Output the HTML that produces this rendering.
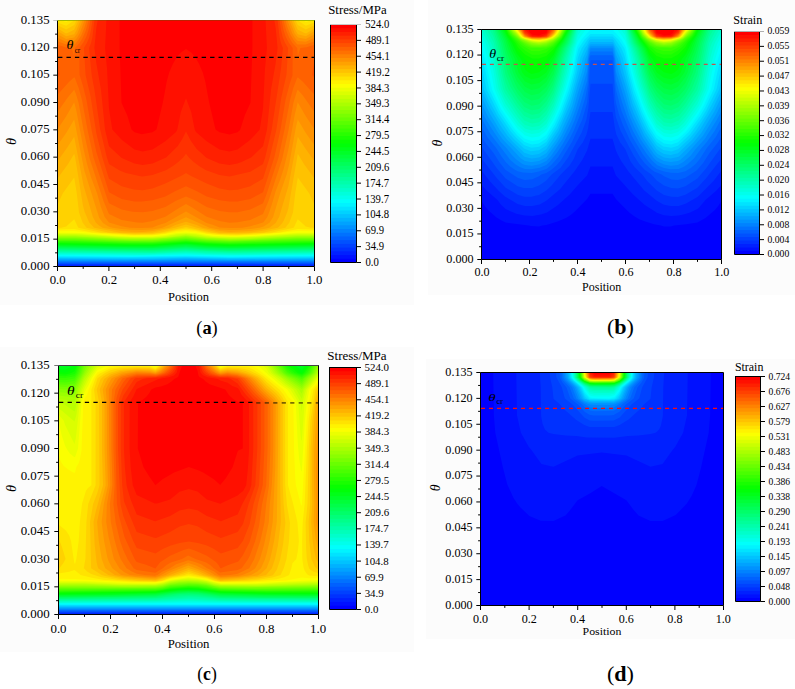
<!DOCTYPE html>
<html><head><meta charset="utf-8"><style>
html,body{margin:0;padding:0;background:#fff;}
svg.main{display:block;font-family:"Liberation Serif", serif;}
</style></head><body>
<svg class="main" width="795" height="689" viewBox="0 0 795 689">
<rect x="0" y="0" width="414" height="305" fill="#fcfcfc"/>
<rect x="428" y="0" width="367" height="295" fill="#fcfcfc"/>
<rect x="0" y="347" width="414" height="305" fill="#fcfcfc"/>
<rect x="426" y="359" width="369" height="280" fill="#fcfcfc"/>
<svg x="57.5" y="20.5" width="257.00" height="246.00" viewBox="0 0 257.00 246.00" preserveAspectRatio="none"><rect x="0" y="0" width="257" height="246" fill="#0000ff"/>
<path fill="#0010ff" d="M0.7,246.0 257.0,246.0 257.0,0.0 0.0,0.0 0.0,246.0Z"/>
<path fill="#0020ff" d="M0.7,245.6 257.0,245.6 257.0,0.0 0.0,0.0 0.0,245.6Z"/>
<path fill="#0031ff" d="M0.7,244.9 257.0,244.9 257.0,0.0 0.0,0.0 0.0,244.9Z"/>
<path fill="#0041ff" d="M0.7,244.1 257.0,244.1 257.0,0.0 0.0,0.0 0.0,244.1Z"/>
<path fill="#0051ff" d="M0.7,243.4 257.0,243.4 257.0,0.0 0.0,0.0 0.0,243.4Z"/>
<path fill="#0061ff" d="M20.7,242.7 257.0,242.6 257.0,0.0 0.0,0.0 0.0,242.6Z"/>
<path fill="#0071ff" d="M35.5,242.0 257.0,241.9 257.0,0.0 0.0,0.0 0.0,241.9Z"/>
<path fill="#0082ff" d="M44.8,241.3 257.0,241.2 257.0,0.0 0.0,0.0 0.0,241.2Z"/>
<path fill="#0092ff" d="M51.5,240.7 257.0,240.4 257.0,0.0 0.0,0.0 0.0,240.4Z"/>
<path fill="#00a2ff" d="M57.6,240.0 128.5,239.5 172.0,240.1 257.0,239.7 257.0,0.0 0.0,0.0 0.0,239.7Z"/>
<path fill="#00b2ff" d="M61.6,239.3 95.0,239.4 128.5,238.8 172.0,239.4 257.0,238.9 257.0,0.0 0.0,0.0 0.0,238.9Z"/>
<path fill="#00c2ff" d="M65.6,238.7 128.5,238.0 172.0,238.8 257.0,238.2 257.0,0.0 0.0,0.0 0.0,238.2Z"/>
<path fill="#00d2ff" d="M68.3,238.0 95.0,238.0 128.5,237.2 172.0,238.1 257.0,237.5 257.0,0.0 0.0,0.0 0.0,237.5Z"/>
<path fill="#00e3ff" d="M70.9,237.3 128.5,236.5 172.0,237.4 257.0,236.7 257.0,0.0 0.0,0.0 0.0,236.7Z"/>
<path fill="#00f3ff" d="M73.0,236.6 128.5,235.7 172.0,236.7 257.0,236.0 257.0,0.0 0.0,0.0 0.0,236.0Z"/>
<path fill="#00fffb" d="M75.0,236.0 128.5,235.0 172.0,236.0 257.0,235.2 257.0,0.0 0.0,0.0 0.0,235.2Z"/>
<path fill="#00ffeb" d="M76.3,235.3 128.5,234.2 172.0,235.3 257.0,234.5 257.0,0.0 0.0,0.0 0.0,234.5Z"/>
<path fill="#00ffdb" d="M33.5,234.0 85.0,234.6 128.5,233.4 149.2,234.2 179.4,234.6 257.0,233.7 257.0,0.0 0.0,0.0 0.0,233.7Z"/>
<path fill="#00ffca" d="M38.1,233.3 85.0,233.9 128.5,232.6 149.2,233.5 179.4,233.9 257.0,233.0 257.0,0.0 0.0,0.0 0.0,233.0Z"/>
<path fill="#00ffba" d="M42.2,232.6 95.0,233.1 128.5,231.8 149.9,232.8 179.4,233.2 257.0,232.2 257.0,0.0 0.0,0.0 0.0,232.2Z"/>
<path fill="#00ffaa" d="M45.5,232.0 95.0,232.4 128.5,231.0 151.9,232.1 179.4,232.5 257.0,231.5 257.0,0.0 0.0,0.0 0.0,231.5Z"/>
<path fill="#00ff9a" d="M48.9,231.3 95.0,231.7 128.5,230.2 172.0,231.8 257.0,230.7 257.0,0.0 0.0,0.0 0.0,230.7Z"/>
<path fill="#00ff8a" d="M51.5,230.6 95.0,231.0 128.5,229.4 149.2,230.6 172.0,231.1 257.0,230.0 257.0,0.0 0.0,0.0 0.0,230.0Z"/>
<path fill="#00ff79" d="M54.9,230.0 95.0,230.3 128.5,228.6 149.2,229.8 172.0,230.4 257.0,229.2 257.0,0.0 0.0,0.0 0.0,229.2Z"/>
<path fill="#00ff69" d="M57.6,229.3 95.0,229.6 128.5,227.8 149.2,229.1 172.0,229.7 257.0,228.5 257.0,0.0 0.0,0.0 0.0,228.5Z"/>
<path fill="#00ff59" d="M59.6,228.6 95.0,228.9 128.5,227.0 149.2,228.4 172.0,229.0 257.0,227.7 257.0,0.0 0.0,0.0 0.0,227.7Z"/>
<path fill="#00ff49" d="M61.6,228.0 95.0,228.1 128.5,226.2 149.2,227.6 172.0,228.3 257.0,227.0 257.0,0.0 0.0,0.0 0.0,227.0Z"/>
<path fill="#00ff39" d="M64.2,227.3 95.0,227.4 128.5,225.4 149.2,226.9 172.0,227.6 257.0,226.2 257.0,0.0 0.0,0.0 0.0,226.2Z"/>
<path fill="#00ff28" d="M66.3,226.6 95.0,226.7 128.5,224.6 149.2,226.2 172.0,226.9 257.0,225.5 257.0,0.0 0.0,0.0 0.0,225.5Z"/>
<path fill="#00ff18" d="M67.6,225.9 95.0,226.0 128.5,223.8 149.2,225.4 172.0,226.2 257.0,224.7 257.0,0.0 0.0,0.0 0.0,224.7Z"/>
<path fill="#00ff08" d="M69.6,225.3 95.0,225.3 128.5,223.1 149.2,224.7 172.0,225.5 257.0,224.0 257.0,0.0 0.0,0.0 0.0,224.0Z"/>
<path fill="#08ff00" d="M70.9,224.6 95.0,224.6 128.5,222.4 149.2,224.0 172.0,224.8 257.0,223.2 257.0,0.0 0.0,0.0 0.0,223.2Z"/>
<path fill="#18ff00" d="M73.0,224.0 95.0,223.9 128.5,221.7 149.2,223.2 172.0,224.1 257.0,222.5 257.0,0.0 0.0,0.0 0.0,222.5Z"/>
<path fill="#28ff00" d="M74.3,223.3 95.0,223.2 128.5,221.1 149.2,222.6 172.0,223.4 257.0,221.8 257.0,0.0 0.0,0.0 0.0,221.8Z"/>
<path fill="#39ff00" d="M70.3,222.6 95.0,222.6 128.5,220.4 149.2,222.0 172.0,222.8 257.0,221.1 257.0,0.0 0.0,0.0 0.0,221.1 17.4,221.1Z"/>
<path fill="#49ff00" d="M65.6,221.9 95.0,222.1 128.5,219.7 149.2,221.4 172.0,222.2 239.6,220.4 257.0,220.4 257.0,0.0 0.0,0.0 0.0,220.4 17.4,220.4Z"/>
<path fill="#59ff00" d="M62.2,221.3 95.0,221.5 128.5,219.0 149.2,220.8 172.0,221.6 239.6,219.7 257.0,219.7 257.0,0.0 0.0,0.0 0.0,219.7 17.4,219.7Z"/>
<path fill="#69ff00" d="M59.6,220.6 95.0,220.9 128.5,218.4 149.2,220.2 172.0,221.1 239.6,219.0 257.0,218.9 257.0,0.0 0.0,0.0 0.0,218.9 17.4,219.0Z"/>
<path fill="#79ff00" d="M57.6,219.9 77.0,220.5 95.0,220.3 128.5,217.7 149.2,219.6 172.7,220.5 239.6,218.3 257.0,218.2 257.0,0.0 0.0,0.0 0.0,218.2 17.4,218.3Z"/>
<path fill="#8aff00" d="M77.0,219.9 98.4,219.6 128.5,217.0 149.2,219.0 172.7,219.9 192.8,219.6 239.6,217.5 257.0,217.5 257.0,0.0 0.0,0.0 0.0,217.5 17.4,217.5Z"/>
<path fill="#9aff00" d="M73.0,219.3 95.0,219.2 128.5,216.3 149.2,218.4 172.7,219.4 192.8,219.0 239.6,216.8 257.0,216.8 257.0,0.0 0.0,0.0 0.0,216.8 17.4,216.8Z"/>
<path fill="#aaff00" d="M69.6,218.6 95.0,218.6 128.5,215.6 149.2,217.8 172.7,218.8 192.8,218.5 239.6,216.1 257.0,216.1 257.0,0.0 0.0,0.0 0.0,216.1 17.4,216.1Z"/>
<path fill="#baff00" d="M66.3,217.9 95.0,218.1 107.8,217.3 128.5,214.9 149.2,217.3 172.7,218.3 192.8,217.9 239.6,215.4 257.0,215.4 257.0,0.0 0.0,0.0 0.0,215.4 17.4,215.4Z"/>
<path fill="#caff00" d="M63.6,217.3 95.0,217.5 107.8,216.7 128.5,214.2 149.2,216.7 172.7,217.7 192.8,217.3 239.6,214.6 257.0,214.6 257.0,0.0 0.0,0.0 0.0,214.6 17.4,214.6Z"/>
<path fill="#dbff00" d="M61.6,216.6 77.0,217.1 95.0,216.9 107.8,216.1 118.5,214.2 128.5,213.4 138.5,214.2 149.9,216.1 162.0,216.9 180.0,217.1 204.8,216.1 239.6,213.8 257.0,213.8 257.0,0.0 0.0,0.0 0.0,213.8 17.4,213.8Z"/>
<path fill="#ebff00" d="M60.2,215.9 77.0,216.6 95.0,216.4 107.8,215.4 118.5,213.4 128.5,212.7 138.5,213.4 148.6,215.3 155.5,215.9 180.0,216.6 199.4,215.8 239.6,213.0 257.0,213.0 257.0,0.0 0.0,0.0 0.0,213.0 21.7,213.2Z"/>
<path fill="#fbff00" d="M75.0,215.9 95.0,215.8 107.8,214.6 118.5,212.6 128.5,211.9 138.5,212.6 155.5,215.2 172.7,216.0 192.8,215.6 239.6,212.2 257.0,212.2 257.0,0.0 0.0,0.0 0.0,212.2 25.4,212.6 51.5,214.7Z"/>
<path fill="#fff300" d="M73.6,215.3 95.0,215.1 128.5,210.7 156.7,214.6 172.7,215.4 205.5,214.1 240.3,210.6 257.0,210.8 257.0,0.0 0.0,0.0 0.0,210.8 16.7,210.6 42.8,213.4Z"/>
<path fill="#ffe300" d="M75.0,214.6 95.0,214.4 107.8,212.9 118.5,210.6 128.5,209.4 138.5,210.6 149.2,212.9 161.3,214.3 179.4,214.7 192.8,214.2 222.3,211.9 240.3,208.5 257.0,209.1 257.0,0.0 253.0,0.0 248.3,1.4 246.3,0.0 10.7,0.0 8.7,1.4 4.0,0.0 0.0,0.0 0.0,209.1 16.7,208.5 34.7,211.9Z"/>
<path fill="#ffd200" d="M77.0,213.9 96.4,213.5 107.8,212.0 118.5,209.4 128.5,208.1 138.5,209.4 149.2,212.0 162.0,213.6 180.0,213.9 214.2,211.9 236.2,207.2 240.3,198.7 248.3,206.1 253.3,207.2 257.0,207.3 257.0,1.9 248.3,5.3 240.5,0.0 16.5,0.0 8.7,5.3 0.0,1.9 0.0,207.3 3.7,207.2 8.7,206.1 16.7,198.7 20.8,207.2 42.8,211.9Z"/>
<path fill="#ffc200" d="M60.9,212.6 77.0,213.2 95.0,212.9 102.6,211.9 128.5,206.4 154.4,211.9 162.0,212.9 179.4,213.2 192.8,212.8 206.1,211.9 227.9,207.2 231.9,201.9 235.5,191.9 237.7,173.1 240.3,156.9 251.8,173.1 257.0,184.2 257.0,4.8 248.3,9.1 240.3,4.5 238.1,0.0 18.9,0.0 16.7,4.5 8.7,9.1 0.0,4.8 0.0,184.2 5.2,173.1 16.7,156.9 19.3,173.1 21.5,191.9 25.1,201.9 28.1,206.1 29.1,207.2 50.9,211.9Z"/>
<path fill="#ffb200" d="M61.6,211.9 77.6,212.5 95.0,212.1 117.5,207.2 128.5,204.1 139.5,207.2 161.3,212.0 172.7,212.5 192.8,212.1 205.5,210.3 218.9,207.6 220.3,207.2 222.2,205.5 224.8,202.5 226.3,199.9 229.9,191.2 230.9,187.6 240.3,133.3 246.6,143.7 257.0,158.1 257.0,7.7 249.0,12.7 247.5,12.7 240.3,9.3 236.1,0.0 20.9,0.0 16.7,9.3 9.5,12.7 8.0,12.7 0.0,7.7 0.0,158.1 10.4,143.7 16.7,133.3 17.6,136.4 25.4,184.7 27.1,191.2 31.7,201.9 36.7,207.2Z"/>
<path fill="#ffa200" d="M74.3,211.3 85.0,211.4 95.0,210.6 111.9,207.2 117.8,204.6 128.5,201.2 139.2,204.6 145.1,207.2 162.0,210.6 172.7,211.5 192.8,210.5 206.1,208.4 211.9,207.2 218.2,202.5 221.6,196.5 230.9,165.5 240.3,116.2 247.2,127.0 257.0,140.8 257.0,10.6 248.3,15.7 240.3,13.7 237.9,9.4 234.1,0.0 22.9,0.0 19.1,9.4 16.7,13.7 8.7,15.7 0.0,10.6 0.0,140.8 9.8,127.0 16.7,116.2 26.0,165.1 35.4,196.5 38.3,201.9 41.5,204.9 45.1,207.2 64.2,210.5Z"/>
<path fill="#ff9200" d="M73.6,209.3 84.3,209.5 95.0,208.9 104.9,207.2 128.5,196.7 152.1,207.2 162.0,208.9 172.0,209.5 180.0,209.5 192.8,208.6 201.9,207.2 206.1,205.9 212.2,201.9 215.6,196.5 222.6,173.1 229.2,153.8 231.6,144.0 238.5,106.3 240.3,99.0 248.3,112.6 257.0,124.7 257.0,13.7 248.3,18.5 240.3,17.1 237.1,12.7 232.0,0.0 128.5,0.0 25.0,0.0 19.9,12.7 16.7,17.1 8.7,18.5 0.0,13.7 0.0,124.7 8.7,112.6 16.7,99.0 26.8,149.9 41.7,197.2 45.5,202.5 51.5,206.2 55.1,207.2 64.2,208.6Z"/>
<path fill="#ff8200" d="M72.3,207.2 84.3,207.6 95.0,206.9 101.1,204.4 107.9,202.5 128.5,191.0 149.1,202.5 155.9,204.4 162.0,206.9 172.7,207.6 184.8,207.2 192.8,205.8 205.5,202.0 206.1,201.4 209.8,196.5 211.4,192.5 214.4,183.8 218.2,170.4 222.7,159.1 226.3,147.7 230.9,128.7 237.1,94.9 240.1,82.2 240.3,81.8 240.5,82.2 248.3,95.7 257.0,108.7 257.0,17.2 248.3,21.3 240.3,20.6 237.5,17.4 234.7,12.7 230.0,0.0 27.0,0.0 22.3,12.7 19.5,17.4 16.7,20.6 8.7,21.3 0.0,17.2 0.0,108.7 8.7,95.7 16.7,81.8 18.9,90.2 26.1,128.7 29.6,143.7 33.6,157.1 39.5,172.5 43.4,186.5 47.2,196.5 51.5,202.0 64.2,205.8Z"/>
<path fill="#ff7100" d="M79.6,201.9 85.0,202.2 95.0,200.6 107.8,196.3 121.9,187.2 128.5,183.6 135.1,187.2 149.2,196.3 162.0,200.6 172.0,202.2 180.0,201.7 192.8,199.5 205.5,193.5 210.8,180.9 224.7,138.4 231.0,109.6 235.9,82.2 239.6,70.3 240.3,69.3 245.0,74.5 257.0,91.5 257.0,20.7 248.3,24.1 240.3,24.1 239.6,23.7 236.3,19.8 233.2,14.7 230.2,7.4 228.0,0.0 128.5,0.0 29.0,0.0 26.8,7.4 23.8,14.7 20.7,19.8 17.4,23.7 16.7,24.1 8.7,24.1 0.0,20.7 0.0,91.5 10.2,76.9 16.7,69.3 18.3,72.9 21.1,82.2 26.0,109.6 32.3,138.4 46.0,180.5 50.9,192.3 51.5,193.5 64.2,199.5Z"/>
<path fill="#ff6100" d="M75.0,191.3 85.0,191.7 95.0,190.4 107.8,186.6 118.5,180.2 128.5,176.1 138.5,180.2 149.2,186.6 162.0,190.4 172.0,191.7 180.0,191.7 192.8,189.1 205.5,182.7 209.0,173.8 221.0,137.0 226.9,109.6 232.5,79.5 235.8,67.5 239.6,57.6 240.3,56.8 245.6,61.4 257.0,74.2 257.0,24.2 249.0,26.8 242.9,27.4 240.3,35.8 239.7,27.4 235.1,22.7 231.9,17.4 228.7,10.0 226.0,0.0 31.0,0.0 28.3,10.0 25.1,17.4 21.9,22.7 17.3,27.4 16.7,35.8 14.1,27.4 8.0,26.8 0.0,24.2 0.0,74.2 11.4,61.4 16.7,56.8 17.4,57.6 21.2,67.5 24.5,79.5 30.1,109.6 36.0,137.0 50.9,181.4 51.5,182.7 64.2,189.1Z"/>
<path fill="#ff5100" d="M74.3,180.5 77.0,181.1 84.3,181.1 95.0,179.8 107.8,175.9 118.5,170.2 128.5,165.7 138.5,170.2 149.2,175.9 162.0,179.8 172.0,181.1 180.0,181.1 192.8,178.5 205.5,171.7 216.9,136.4 222.9,109.6 228.1,78.9 231.9,64.2 235.0,54.8 235.2,27.4 231.2,22.1 228.1,16.0 226.0,9.4 224.1,0.0 32.9,0.0 31.0,9.4 28.9,16.0 25.8,22.1 21.8,27.4 22.0,54.1 25.7,66.2 29.0,79.5 34.1,109.6 38.8,131.2 51.5,171.7 64.2,178.5ZM0.2,56.8 2.2,54.8 2.3,54.1 0.0,39.3ZM257.0,57.0 257.0,39.3 254.7,54.1 254.8,54.8Z"/>
<path fill="#ff4100" d="M76.3,169.1 85.0,169.7 95.0,168.0 107.8,163.1 124.4,155.1 128.5,152.5 132.6,155.1 149.2,163.1 162.0,168.0 172.0,169.7 180.0,169.3 192.8,165.7 205.5,158.2 212.3,136.4 218.8,109.6 223.8,76.9 229.0,54.1 230.6,27.4 227.6,22.6 225.2,16.7 223.5,9.4 222.1,0.0 34.9,0.0 33.5,9.4 31.8,16.7 29.4,22.6 26.4,27.4 28.1,54.8 33.0,75.5 38.8,112.5 44.7,136.4 51.5,158.2 64.2,165.7Z"/>
<path fill="#ff3100" d="M83.0,155.8 85.0,156.1 95.0,154.6 108.4,149.7 115.1,145.7 120.5,141.7 125.6,137.0 128.5,133.2 131.4,137.0 136.5,141.7 141.9,145.7 148.6,149.7 162.0,154.6 172.0,156.1 192.8,151.2 205.5,143.6 207.8,136.4 214.1,109.6 223.5,48.1 225.4,27.4 223.5,22.7 222.1,16.7 220.1,0.0 36.9,0.0 34.9,16.7 33.5,22.7 31.6,27.4 32.7,39.4 34.2,54.8 37.0,69.5 42.7,109.0 49.4,137.0 51.5,143.6 62.2,150.1 68.5,152.4Z"/>
<path fill="#ff2000" d="M85.0,144.4 95.0,143.1 108.6,137.0 120.1,125.7 124.5,119.0 128.5,110.9 133.3,120.3 139.2,128.4 149.2,137.6 162.0,143.1 172.0,144.4 180.0,143.0 184.0,141.5 193.6,137.0 205.5,125.8 209.5,109.0 213.5,69.3 218.2,42.5 220.1,27.4 218.2,7.7 216.9,0.0 40.1,0.0 38.8,7.7 36.9,27.4 38.8,42.5 43.5,69.3 47.5,109.0 51.5,125.8 64.2,137.6 77.0,143.0Z"/>
<path fill="#ff1000" d="M85.0,131.1 95.0,129.1 107.8,120.8 118.5,111.6 119.8,109.0 123.3,91.6 128.5,77.7 133.7,91.6 137.2,109.0 138.5,111.6 149.2,120.8 162.0,129.1 172.0,131.1 180.0,129.0 192.8,119.3 197.6,114.3 202.2,109.0 205.5,88.2 207.4,49.5 209.4,27.4 208.1,0.0 48.9,0.0 47.6,27.4 49.6,49.5 51.5,88.2 54.8,109.0 64.2,119.3 73.3,126.3 77.0,129.0Z"/>
<path fill="#ff0000" d="M84.3,113.8 95.0,111.8 99.0,109.0 105.3,82.2 109.3,60.8 111.7,52.1 115.4,43.5 119.1,36.8 123.3,32.1 128.5,28.4 133.7,32.1 137.9,36.8 141.6,43.5 145.3,52.1 147.7,60.8 151.7,82.2 158.0,109.0 162.0,111.8 172.0,113.9 180.0,111.7 182.6,109.6 187.4,94.4 193.0,82.2 194.9,27.4 194.9,0.0 62.1,0.0 62.1,27.4 64.0,82.2 69.8,94.9 74.0,109.0 77.0,111.7Z"/></svg>
<line x1="57.5" y1="57.45" x2="314.5" y2="57.45" stroke="#000" stroke-width="1.3" stroke-dasharray="4.4 4.05" stroke-dashoffset="-0.5"/>
<line x1="57.5" y1="20.5" x2="314.5" y2="20.5" stroke="rgba(0,0,0,0.25)" stroke-width="1"/>
<path d="M57.5,20.5 V266.5 H314.5 V20.5" fill="none" stroke="#000" stroke-width="1"/>
<line x1="53.30" y1="20.50" x2="57.5" y2="20.50" stroke="#c8c8c8" stroke-width="1"/>
<line x1="55.10" y1="34.17" x2="57.5" y2="34.17" stroke="#000" stroke-width="1"/>
<line x1="53.30" y1="47.83" x2="57.5" y2="47.83" stroke="#000" stroke-width="1"/>
<line x1="55.10" y1="61.50" x2="57.5" y2="61.50" stroke="#000" stroke-width="1"/>
<line x1="53.30" y1="75.17" x2="57.5" y2="75.17" stroke="#000" stroke-width="1"/>
<line x1="55.10" y1="88.83" x2="57.5" y2="88.83" stroke="#000" stroke-width="1"/>
<line x1="53.30" y1="102.50" x2="57.5" y2="102.50" stroke="#000" stroke-width="1"/>
<line x1="55.10" y1="116.17" x2="57.5" y2="116.17" stroke="#000" stroke-width="1"/>
<line x1="53.30" y1="129.83" x2="57.5" y2="129.83" stroke="#000" stroke-width="1"/>
<line x1="55.10" y1="143.50" x2="57.5" y2="143.50" stroke="#000" stroke-width="1"/>
<line x1="53.30" y1="157.17" x2="57.5" y2="157.17" stroke="#000" stroke-width="1"/>
<line x1="55.10" y1="170.83" x2="57.5" y2="170.83" stroke="#000" stroke-width="1"/>
<line x1="53.30" y1="184.50" x2="57.5" y2="184.50" stroke="#000" stroke-width="1"/>
<line x1="55.10" y1="198.17" x2="57.5" y2="198.17" stroke="#000" stroke-width="1"/>
<line x1="53.30" y1="211.83" x2="57.5" y2="211.83" stroke="#000" stroke-width="1"/>
<line x1="55.10" y1="225.50" x2="57.5" y2="225.50" stroke="#000" stroke-width="1"/>
<line x1="53.30" y1="239.17" x2="57.5" y2="239.17" stroke="#000" stroke-width="1"/>
<line x1="55.10" y1="252.83" x2="57.5" y2="252.83" stroke="#000" stroke-width="1"/>
<line x1="53.30" y1="266.50" x2="57.5" y2="266.50" stroke="#000" stroke-width="1"/>
<line x1="57.50" y1="266.5" x2="57.50" y2="271.00" stroke="#000" stroke-width="1"/>
<line x1="83.20" y1="266.5" x2="83.20" y2="268.90" stroke="#000" stroke-width="1"/>
<line x1="108.90" y1="266.5" x2="108.90" y2="271.00" stroke="#000" stroke-width="1"/>
<line x1="134.60" y1="266.5" x2="134.60" y2="268.90" stroke="#000" stroke-width="1"/>
<line x1="160.30" y1="266.5" x2="160.30" y2="271.00" stroke="#000" stroke-width="1"/>
<line x1="186.00" y1="266.5" x2="186.00" y2="268.90" stroke="#000" stroke-width="1"/>
<line x1="211.70" y1="266.5" x2="211.70" y2="271.00" stroke="#000" stroke-width="1"/>
<line x1="237.40" y1="266.5" x2="237.40" y2="268.90" stroke="#000" stroke-width="1"/>
<line x1="263.10" y1="266.5" x2="263.10" y2="271.00" stroke="#000" stroke-width="1"/>
<line x1="288.80" y1="266.5" x2="288.80" y2="268.90" stroke="#000" stroke-width="1"/>
<line x1="314.50" y1="266.5" x2="314.50" y2="271.00" stroke="#000" stroke-width="1"/>
<svg x="330.5" y="24.5" width="26.00" height="238.00" viewBox="0 0 26.00 238.00" preserveAspectRatio="none"><rect x="0" y="0" width="26" height="238.00" fill="#0000ff"/>
<rect x="0" y="0" width="26" height="234.28" fill="#0010ff"/>
<rect x="0" y="0" width="26" height="230.56" fill="#0020ff"/>
<rect x="0" y="0" width="26" height="226.84" fill="#0031ff"/>
<rect x="0" y="0" width="26" height="223.12" fill="#0041ff"/>
<rect x="0" y="0" width="26" height="219.41" fill="#0051ff"/>
<rect x="0" y="0" width="26" height="215.69" fill="#0061ff"/>
<rect x="0" y="0" width="26" height="211.97" fill="#0071ff"/>
<rect x="0" y="0" width="26" height="208.25" fill="#0082ff"/>
<rect x="0" y="0" width="26" height="204.53" fill="#0092ff"/>
<rect x="0" y="0" width="26" height="200.81" fill="#00a2ff"/>
<rect x="0" y="0" width="26" height="197.09" fill="#00b2ff"/>
<rect x="0" y="0" width="26" height="193.38" fill="#00c2ff"/>
<rect x="0" y="0" width="26" height="189.66" fill="#00d2ff"/>
<rect x="0" y="0" width="26" height="185.94" fill="#00e3ff"/>
<rect x="0" y="0" width="26" height="182.22" fill="#00f3ff"/>
<rect x="0" y="0" width="26" height="178.50" fill="#00fffb"/>
<rect x="0" y="0" width="26" height="174.78" fill="#00ffeb"/>
<rect x="0" y="0" width="26" height="171.06" fill="#00ffdb"/>
<rect x="0" y="0" width="26" height="167.34" fill="#00ffca"/>
<rect x="0" y="0" width="26" height="163.62" fill="#00ffba"/>
<rect x="0" y="0" width="26" height="159.91" fill="#00ffaa"/>
<rect x="0" y="0" width="26" height="156.19" fill="#00ff9a"/>
<rect x="0" y="0" width="26" height="152.47" fill="#00ff8a"/>
<rect x="0" y="0" width="26" height="148.75" fill="#00ff79"/>
<rect x="0" y="0" width="26" height="145.03" fill="#00ff69"/>
<rect x="0" y="0" width="26" height="141.31" fill="#00ff59"/>
<rect x="0" y="0" width="26" height="137.59" fill="#00ff49"/>
<rect x="0" y="0" width="26" height="133.88" fill="#00ff39"/>
<rect x="0" y="0" width="26" height="130.16" fill="#00ff28"/>
<rect x="0" y="0" width="26" height="126.44" fill="#00ff18"/>
<rect x="0" y="0" width="26" height="122.72" fill="#00ff08"/>
<rect x="0" y="0" width="26" height="119.00" fill="#08ff00"/>
<rect x="0" y="0" width="26" height="115.28" fill="#18ff00"/>
<rect x="0" y="0" width="26" height="111.56" fill="#28ff00"/>
<rect x="0" y="0" width="26" height="107.84" fill="#39ff00"/>
<rect x="0" y="0" width="26" height="104.12" fill="#49ff00"/>
<rect x="0" y="0" width="26" height="100.41" fill="#59ff00"/>
<rect x="0" y="0" width="26" height="96.69" fill="#69ff00"/>
<rect x="0" y="0" width="26" height="92.97" fill="#79ff00"/>
<rect x="0" y="0" width="26" height="89.25" fill="#8aff00"/>
<rect x="0" y="0" width="26" height="85.53" fill="#9aff00"/>
<rect x="0" y="0" width="26" height="81.81" fill="#aaff00"/>
<rect x="0" y="0" width="26" height="78.09" fill="#baff00"/>
<rect x="0" y="0" width="26" height="74.38" fill="#caff00"/>
<rect x="0" y="0" width="26" height="70.66" fill="#dbff00"/>
<rect x="0" y="0" width="26" height="66.94" fill="#ebff00"/>
<rect x="0" y="0" width="26" height="63.22" fill="#fbff00"/>
<rect x="0" y="0" width="26" height="59.50" fill="#fff300"/>
<rect x="0" y="0" width="26" height="55.78" fill="#ffe300"/>
<rect x="0" y="0" width="26" height="52.06" fill="#ffd200"/>
<rect x="0" y="0" width="26" height="48.34" fill="#ffc200"/>
<rect x="0" y="0" width="26" height="44.62" fill="#ffb200"/>
<rect x="0" y="0" width="26" height="40.91" fill="#ffa200"/>
<rect x="0" y="0" width="26" height="37.19" fill="#ff9200"/>
<rect x="0" y="0" width="26" height="33.47" fill="#ff8200"/>
<rect x="0" y="0" width="26" height="29.75" fill="#ff7100"/>
<rect x="0" y="0" width="26" height="26.03" fill="#ff6100"/>
<rect x="0" y="0" width="26" height="22.31" fill="#ff5100"/>
<rect x="0" y="0" width="26" height="18.59" fill="#ff4100"/>
<rect x="0" y="0" width="26" height="14.88" fill="#ff3100"/>
<rect x="0" y="0" width="26" height="11.16" fill="#ff2000"/>
<rect x="0" y="0" width="26" height="7.44" fill="#ff1000"/>
<rect x="0" y="0" width="26" height="3.72" fill="#ff0000"/></svg>
<path d="M330.5,24.5 V262.5 H356.5 V24.5" fill="none" stroke="#000" stroke-width="1"/>
<line x1="330.0" y1="24.5" x2="357.0" y2="24.5" stroke="#c8c8c8" stroke-width="1"/>
<line x1="356.5" y1="24.50" x2="361.00" y2="24.50" stroke="#c8c8c8" stroke-width="1"/>
<line x1="356.5" y1="40.37" x2="361.00" y2="40.37" stroke="#000" stroke-width="1"/>
<line x1="356.5" y1="56.23" x2="361.00" y2="56.23" stroke="#000" stroke-width="1"/>
<line x1="356.5" y1="72.10" x2="361.00" y2="72.10" stroke="#000" stroke-width="1"/>
<line x1="356.5" y1="87.97" x2="361.00" y2="87.97" stroke="#000" stroke-width="1"/>
<line x1="356.5" y1="103.83" x2="361.00" y2="103.83" stroke="#000" stroke-width="1"/>
<line x1="356.5" y1="119.70" x2="361.00" y2="119.70" stroke="#000" stroke-width="1"/>
<line x1="356.5" y1="135.57" x2="361.00" y2="135.57" stroke="#000" stroke-width="1"/>
<line x1="356.5" y1="151.43" x2="361.00" y2="151.43" stroke="#000" stroke-width="1"/>
<line x1="356.5" y1="167.30" x2="361.00" y2="167.30" stroke="#000" stroke-width="1"/>
<line x1="356.5" y1="183.17" x2="361.00" y2="183.17" stroke="#000" stroke-width="1"/>
<line x1="356.5" y1="199.03" x2="361.00" y2="199.03" stroke="#000" stroke-width="1"/>
<line x1="356.5" y1="214.90" x2="361.00" y2="214.90" stroke="#000" stroke-width="1"/>
<line x1="356.5" y1="230.77" x2="361.00" y2="230.77" stroke="#000" stroke-width="1"/>
<line x1="356.5" y1="246.63" x2="361.00" y2="246.63" stroke="#000" stroke-width="1"/>
<line x1="356.5" y1="262.50" x2="361.00" y2="262.50" stroke="#000" stroke-width="1"/>
<svg x="481.5" y="29.5" width="240.00" height="230.00" viewBox="0 0 240.00 230.00" preserveAspectRatio="none"><rect x="0" y="0" width="240" height="230" fill="#0000ff"/>
<path fill="#0010ff" d="M49.5,196.6 57.5,197.0 60.6,195.9 64.8,195.4 76.2,192.1 84.4,188.5 88.9,185.7 93.4,181.9 105.6,169.4 109.0,164.2 131.0,164.2 134.4,169.4 139.2,174.5 148.0,183.2 153.1,187.1 158.3,189.9 164.5,192.3 172.5,194.8 179.4,195.9 182.5,197.0 189.2,197.0 192.6,195.9 204.6,194.8 215.9,192.9 224.0,188.6 233.4,180.5 236.7,176.5 240.0,171.2 240.0,0.0 0.0,0.0 0.0,171.2 3.3,176.6 7.3,181.2 15.0,187.9 20.1,191.1 24.1,192.9 27.4,193.5 47.4,195.9Z"/>
<path fill="#0020ff" d="M42.8,186.0 50.8,186.4 59.5,185.1 65.5,183.0 76.2,175.8 88.2,165.1 96.3,155.8 104.6,147.1 105.6,145.9 109.0,137.1 131.0,137.1 134.4,145.9 151.1,164.4 162.9,175.2 175.8,183.6 182.5,185.7 189.9,186.4 197.2,186.0 203.9,184.6 208.6,183.0 215.9,179.6 217.9,177.8 224.0,170.5 234.7,161.3 240.0,155.4 240.0,0.0 0.0,0.0 0.0,155.4 5.3,161.3 16.0,170.5 19.5,175.2 24.1,179.6 34.8,184.2Z"/>
<path fill="#0031ff" d="M43.5,176.5 50.8,176.6 58.2,174.9 64.8,171.2 78.5,159.8 92.9,142.1 100.9,130.3 105.6,121.0 109.0,109.3 131.0,109.3 134.4,121.0 136.2,125.0 139.7,131.4 146.8,141.7 162.5,160.7 175.2,171.2 180.5,174.2 182.5,175.2 189.2,176.6 197.2,176.4 204.6,174.1 215.9,167.5 218.7,165.1 232.0,151.5 240.0,141.0 240.0,0.0 0.0,0.0 0.0,141.0 8.3,151.8 17.4,161.4 23.4,167.0 36.1,174.4Z"/>
<path fill="#0041ff" d="M42.8,167.3 50.1,167.3 54.8,166.1 57.5,165.4 64.8,161.1 70.3,155.8 79.3,145.1 88.2,136.0 92.5,129.0 96.3,119.4 101.3,113.0 104.9,105.6 106.7,98.3 109.0,82.6 131.0,82.6 133.2,97.6 134.8,105.0 138.7,113.0 143.7,119.4 148.9,131.7 153.2,137.7 160.7,145.1 165.9,151.8 175.2,161.1 182.5,165.4 189.9,167.3 196.5,167.4 203.9,165.2 215.9,158.2 224.4,149.1 240.0,128.9 240.0,0.0 0.0,0.0 0.0,128.9 15.6,149.1 24.1,158.2 36.1,165.2Z"/>
<path fill="#0051ff" d="M42.1,158.6 50.8,158.5 57.5,156.1 62.0,153.1 64.8,151.1 70.1,145.1 78.9,138.4 86.8,127.7 100.2,103.0 104.9,90.3 107.0,77.6 109.0,54.3 131.0,54.3 132.7,74.9 134.3,87.6 139.2,101.6 152.0,125.7 157.8,134.4 163.1,140.2 169.9,145.1 175.2,151.1 182.5,156.1 185.3,157.1 189.9,158.6 196.5,158.9 203.9,156.7 215.9,148.9 224.5,139.1 240.0,117.3 240.0,0.0 0.0,0.0 0.0,117.3 15.5,139.1 24.1,148.9 36.1,156.7Z"/>
<path fill="#0061ff" d="M41.4,149.9 43.5,150.4 50.8,149.8 57.5,146.8 59.8,145.1 64.8,143.4 69.6,140.4 75.1,135.7 79.2,131.0 90.6,112.3 100.7,90.3 105.6,73.3 107.5,54.2 109.0,30.7 131.0,30.7 133.9,69.5 134.4,73.3 137.5,84.9 141.2,94.9 148.4,110.6 159.1,128.6 163.8,134.6 169.5,139.7 173.1,142.3 180.2,145.1 182.5,146.8 189.9,150.0 196.5,150.4 203.9,148.2 215.1,141.1 221.5,133.7 228.0,123.5 236.0,113.6 240.0,107.3 240.0,0.0 0.0,0.0 0.0,107.3 4.0,113.6 12.0,123.5 18.1,133.1 24.1,140.4 36.1,148.2Z"/>
<path fill="#0071ff" d="M41.4,143.1 50.1,143.4 57.5,142.0 64.8,139.4 66.3,138.4 70.2,135.1 76.7,127.7 88.3,109.0 92.3,101.0 98.7,84.9 103.8,68.2 106.2,55.5 108.1,28.8 109.0,25.7 131.0,25.7 131.9,28.8 133.0,47.5 134.4,59.9 139.8,80.9 150.2,106.3 161.4,125.0 165.8,130.8 171.1,136.4 175.2,139.4 182.5,142.0 189.2,143.3 196.5,143.5 199.9,142.8 203.9,141.7 209.3,138.4 214.1,134.4 218.1,129.7 225.0,119.0 234.3,107.6 240.0,97.3 240.0,0.0 0.0,0.0 0.0,97.3 5.7,107.6 15.0,119.0 20.0,127.0 24.6,133.1 28.7,136.9 33.4,140.2 36.1,141.7Z"/>
<path fill="#0082ff" d="M49.5,139.8 58.2,138.3 64.8,135.5 67.5,133.1 75.7,123.0 81.4,114.3 88.2,102.1 93.1,90.9 98.5,75.6 105.6,50.9 107.3,28.8 109.0,22.1 131.0,22.1 132.7,28.8 134.4,50.9 140.4,72.2 146.1,88.9 151.2,101.0 158.2,113.7 164.8,123.7 170.5,131.0 175.8,135.8 182.5,138.5 189.2,139.7 197.2,139.4 201.9,137.4 205.8,135.1 212.6,128.8 219.7,119.0 225.3,112.6 233.3,101.2 240.0,88.8 240.0,0.0 0.0,0.0 0.0,88.8 8.7,104.3 28.8,130.4 34.1,135.0 38.8,137.8 43.5,139.5Z"/>
<path fill="#0092ff" d="M45.5,135.8 50.1,136.2 57.5,135.0 64.8,131.6 69.5,126.4 80.9,109.7 89.9,91.6 94.1,80.2 105.4,42.8 106.6,28.8 109.0,18.7 131.1,18.7 133.4,28.8 134.6,42.8 147.9,86.2 152.6,96.9 159.4,110.3 171.8,128.0 175.2,131.6 178.1,133.1 182.5,135.0 189.2,136.2 196.5,135.6 201.9,132.6 208.9,126.4 214.6,119.0 223.1,109.7 235.4,90.3 240.0,81.2 240.0,0.0 0.0,0.0 0.0,81.2 3.5,88.3 9.1,97.6 19.0,112.3 25.4,119.0 29.9,125.0 34.5,129.7 40.9,134.4 43.5,135.6Z"/>
<path fill="#00a2ff" d="M48.8,132.4 50.8,132.6 57.5,131.4 64.8,127.7 76.2,112.3 80.2,105.6 88.8,87.6 92.3,78.2 96.3,63.8 102.9,42.8 105.6,31.1 107.4,20.1 109.0,16.7 131.0,16.7 131.7,17.4 132.9,21.4 134.4,31.1 137.1,42.8 143.7,63.8 147.7,78.4 151.5,88.3 161.6,109.0 172.4,124.4 175.8,128.1 182.5,131.4 189.2,132.6 196.5,131.6 198.6,130.4 205.3,124.4 221.3,106.6 234.3,85.6 240.0,74.0 240.0,0.0 0.0,0.0 0.0,74.0 6.4,86.9 12.0,95.4 16.7,103.6 21.1,109.7 39.4,128.9 43.5,131.6Z"/>
<path fill="#00b2ff" d="M50.1,129.1 57.5,127.9 64.8,123.7 75.0,109.7 79.0,103.0 87.5,84.2 90.6,76.2 96.3,55.5 100.4,42.8 103.6,29.4 105.6,24.7 106.7,18.7 109.0,14.7 131.0,14.7 131.7,15.3 133.3,18.7 134.4,24.7 136.4,29.4 139.6,42.8 143.7,55.5 149.4,76.2 152.8,84.9 162.9,106.3 173.8,122.0 176.1,124.4 182.5,127.9 189.2,129.0 197.2,127.3 211.9,113.0 219.9,103.2 232.7,82.2 240.0,67.3 240.0,0.0 0.0,0.0 0.0,67.3 8.4,84.2 18.7,101.2 25.4,110.0 42.8,127.3Z"/>
<path fill="#00c2ff" d="M48.8,125.2 50.8,125.5 57.5,124.4 64.8,119.8 77.1,101.6 88.9,74.5 97.9,42.8 101.3,28.8 105.6,19.4 106.9,15.4 109.0,12.4 131.0,12.4 131.7,13.0 138.7,28.8 142.1,42.8 151.1,74.5 160.3,96.3 164.0,103.6 175.2,119.8 179.0,122.4 182.5,124.4 189.2,125.5 196.5,123.8 210.6,110.3 218.8,99.6 231.7,78.2 240.0,60.7 240.0,0.0 0.0,0.0 0.0,60.7 9.1,79.6 19.8,97.6 26.0,106.3 30.8,111.7 42.8,123.3Z"/>
<path fill="#00d2ff" d="M49.5,121.7 57.5,120.8 64.8,116.1 76.1,99.0 81.3,87.6 89.1,67.5 93.4,52.2 99.0,28.1 103.1,18.7 105.6,15.3 107.6,11.0 109.0,9.7 131.0,9.7 132.1,10.7 134.4,15.3 137.2,19.4 141.1,28.3 146.8,52.8 151.3,68.9 159.5,89.6 165.4,101.6 175.2,116.1 181.8,120.5 189.9,121.9 196.5,119.8 207.9,109.3 214.6,101.0 224.7,85.6 233.2,69.5 237.8,59.5 240.0,48.4 240.0,0.0 0.0,0.0 0.0,48.4 2.5,60.2 7.1,70.2 15.7,86.2 27.8,104.3 33.1,110.3 42.8,119.3Z"/>
<path fill="#00e3ff" d="M50.1,118.3 57.5,117.3 64.8,112.5 74.9,96.7 80.7,84.2 88.2,63.9 93.9,42.8 96.3,28.8 98.1,23.4 100.1,18.7 106.0,10.0 109.0,7.0 131.0,7.0 134.0,10.0 139.9,18.7 142.4,24.7 143.7,28.8 146.6,44.8 152.0,64.9 160.2,86.2 166.7,99.6 175.2,112.5 181.8,117.0 189.9,118.3 196.5,116.3 208.6,104.7 219.9,88.7 224.6,80.9 235.1,59.5 240.0,36.6 240.0,0.0 0.0,0.0 0.0,36.6 5.2,60.2 17.2,84.2 29.5,102.3 34.8,108.3 42.8,115.8Z"/>
<path fill="#00f3ff" d="M48.8,114.5 50.8,114.9 57.5,113.9 64.8,108.9 73.2,95.6 80.0,80.9 87.5,60.2 92.2,42.8 94.6,28.8 96.8,19.4 103.0,10.0 109.0,4.4 131.0,4.4 137.0,10.0 142.9,18.7 143.7,20.9 147.8,42.8 152.5,60.2 160.5,82.2 167.8,97.4 175.2,108.9 182.5,113.9 189.9,114.9 196.5,112.8 207.2,102.5 218.6,86.6 223.9,77.6 232.4,59.5 235.8,42.8 240.0,26.7 240.0,0.0 0.0,0.0 0.0,26.7 4.2,42.8 7.9,60.2 18.3,81.6 30.5,99.6 35.4,105.5 42.8,112.3Z"/>
<path fill="#00fffb" d="M49.5,111.2 50.8,111.4 57.5,110.4 64.8,105.3 72.2,93.3 78.9,78.9 85.8,59.5 90.5,42.8 95.6,17.4 100.0,10.0 109.0,0.0 0.0,0.0 0.0,18.7 3.5,29.4 10.6,60.2 19.4,79.2 32.1,97.9 36.1,102.7 42.8,108.9ZM186.5,111.0 189.9,111.4 196.5,109.3 203.9,102.7 208.6,97.0 216.6,85.6 222.2,76.2 229.7,59.5 233.1,42.8 236.5,29.4 240.0,18.7 240.0,0.0 131.0,0.0 140.0,10.0 144.4,17.4 149.5,42.8 153.6,57.5 160.3,76.9 166.2,90.3 175.2,105.3 182.5,110.4Z"/>
<path fill="#00ffeb" d="M49.5,107.7 50.8,107.9 57.5,106.9 64.8,101.6 72.4,88.9 77.8,76.9 84.0,59.5 88.8,42.8 93.8,18.7 96.3,11.2 104.3,0.0 0.0,0.0 0.0,11.7 2.9,18.7 6.0,28.8 9.6,42.8 12.8,59.5 18.7,73.2 23.4,81.7 36.1,99.2 43.5,105.9ZM187.9,107.7 189.9,107.9 196.5,105.9 203.9,99.2 215.9,82.7 219.9,76.2 227.2,59.5 230.4,42.8 234.0,28.8 237.1,18.7 240.0,11.7 240.0,0.0 135.8,0.0 143.7,11.2 146.2,18.7 151.2,42.8 154.6,54.8 160.9,73.5 166.3,86.2 175.2,101.6 182.5,106.9Z"/>
<path fill="#00ffdb" d="M50.1,104.5 57.5,103.4 64.8,98.0 72.9,83.7 77.0,74.2 82.3,59.5 87.1,42.8 92.5,18.7 94.5,13.4 96.3,6.0 100.5,0.0 0.0,0.0 0.0,6.4 4.1,14.0 8.2,26.7 12.0,41.9 15.0,59.5 22.5,76.2 36.1,95.7 43.5,102.4ZM188.5,104.4 189.9,104.5 196.5,102.4 203.9,95.7 217.5,76.2 225.0,59.5 228.0,41.9 231.8,26.7 235.9,14.0 240.0,6.4 240.0,0.0 139.5,0.0 143.7,6.0 145.5,13.4 147.5,18.7 152.9,42.8 157.7,59.5 162.5,72.9 166.5,82.3 175.2,98.0 182.5,103.4Z"/>
<path fill="#00ffca" d="M50.1,101.0 57.5,100.0 64.8,94.4 72.9,79.6 81.2,57.5 85.4,42.8 88.4,28.8 91.1,18.7 93.3,13.4 96.8,0.0 0.0,0.0 0.0,1.1 6.7,13.4 8.6,18.7 12.0,31.3 17.2,59.5 24.1,74.6 37.6,93.6 43.5,98.9ZM189.2,101.0 196.5,98.9 202.4,93.6 215.9,74.6 222.8,59.5 228.0,31.3 231.4,18.7 233.3,13.4 240.0,1.1 240.0,0.0 143.2,0.0 146.7,13.4 148.9,18.7 151.6,28.8 154.6,42.8 158.6,56.8 166.8,78.9 175.2,94.4 182.5,100.0Z"/>
<path fill="#00ffba" d="M48.8,97.1 50.8,97.5 57.5,96.5 61.3,93.6 64.8,90.1 72.2,76.9 80.1,55.5 83.7,42.8 86.8,28.8 89.8,18.7 92.1,13.4 95.4,0.0 2.3,0.0 9.6,13.4 11.5,18.7 19.2,58.8 23.4,68.4 36.1,87.4 41.3,93.6 43.5,95.4ZM185.8,97.0 189.9,97.5 197.2,95.0 203.9,87.4 215.9,69.8 220.6,59.5 228.5,18.7 230.4,13.4 237.7,0.0 144.6,0.0 147.9,13.4 150.2,18.7 153.2,28.8 156.3,42.8 159.8,55.1 167.5,76.2 175.2,90.1 182.5,96.5Z"/>
<path fill="#00ffaa" d="M48.8,93.6 50.8,94.1 57.5,92.8 58.2,92.3 64.8,85.6 72.2,72.5 78.6,54.8 82.1,42.8 85.3,28.8 88.5,18.7 91.0,13.4 94.7,0.0 5.2,0.0 12.3,13.4 19.4,50.4 21.6,59.5 23.4,63.6 36.1,83.0 42.8,90.9ZM186.5,93.6 189.9,94.0 197.2,90.9 203.9,83.0 215.9,65.0 218.4,59.5 220.2,52.2 227.7,13.4 234.8,0.0 145.3,0.0 149.0,13.4 151.5,18.7 154.7,28.8 157.9,42.8 161.4,54.8 167.8,72.5 175.2,85.6 182.5,92.8Z"/>
<path fill="#00ff9a" d="M50.1,89.7 57.5,88.4 58.2,87.8 64.8,81.2 72.2,68.0 79.2,47.5 83.7,28.8 87.1,18.7 89.8,13.4 93.9,0.0 8.1,0.0 12.0,7.3 14.2,14.0 20.0,44.1 24.1,60.1 35.4,77.6 42.8,86.5ZM189.2,89.7 197.2,86.5 204.6,77.6 215.9,60.1 220.0,44.1 225.8,14.0 228.0,7.3 231.9,0.0 146.1,0.0 150.2,13.4 152.9,18.7 156.3,28.8 160.8,47.5 167.8,68.0 175.8,81.9 182.5,88.4Z"/>
<path fill="#00ff8a" d="M49.5,85.0 50.8,85.3 57.5,84.0 58.2,83.4 64.8,76.8 72.2,63.6 78.9,43.2 82.3,28.8 85.8,18.7 88.6,13.4 93.2,0.0 11.0,0.0 16.0,14.0 22.2,45.5 24.1,52.8 26.8,59.5 36.1,73.9 42.8,82.0ZM187.9,85.0 189.9,85.3 197.2,82.0 203.9,73.9 213.2,59.5 215.9,52.8 217.8,45.5 224.0,14.0 229.0,0.0 146.9,0.0 151.4,13.4 154.2,18.7 157.7,28.8 161.1,43.2 167.8,63.6 175.3,76.9 182.5,84.0Z"/>
<path fill="#00ff79" d="M48.8,80.3 50.8,80.8 57.5,79.5 58.2,79.0 64.8,71.9 71.5,60.4 77.4,42.8 80.9,28.8 84.4,18.7 87.5,13.4 92.4,0.0 12.9,0.0 17.8,14.0 24.1,45.2 28.7,56.9 36.1,69.0 42.8,77.6ZM186.5,80.3 189.9,80.8 197.2,77.6 203.9,69.0 210.1,59.5 215.9,45.2 222.2,14.0 227.1,0.0 147.6,0.0 152.5,13.4 155.6,18.7 159.1,28.8 162.6,42.8 167.8,59.1 175.2,71.9 182.5,79.5Z"/>
<path fill="#00ff69" d="M50.1,76.3 57.5,74.8 64.8,67.1 71.5,55.6 75.9,42.8 79.4,28.8 83.1,18.7 86.3,13.4 91.6,0.0 14.3,0.0 19.4,13.4 25.9,42.8 31.4,56.2 36.1,64.2 42.8,72.5ZM189.2,76.3 196.5,73.2 203.9,64.2 207.9,57.5 214.1,42.8 220.6,13.4 225.7,0.0 148.3,0.0 153.7,13.4 156.9,18.7 160.6,28.8 164.1,42.8 168.5,55.6 175.2,67.1 182.5,74.8Z"/>
<path fill="#00ff59" d="M50.1,71.0 57.5,69.5 58.2,68.8 64.8,62.3 71.5,50.8 74.3,42.8 78.0,28.8 81.8,18.7 85.1,13.4 90.9,0.0 15.7,0.0 21.2,13.4 28.6,42.8 33.8,54.8 36.1,59.3 42.8,67.2ZM188.5,70.9 189.9,71.0 196.5,67.8 203.7,59.5 205.2,56.8 211.4,42.8 218.8,13.4 224.3,0.0 149.1,0.0 154.9,13.4 158.2,18.7 162.0,28.8 165.7,42.8 168.5,50.8 175.2,62.3 182.5,69.5Z"/>
<path fill="#00ff49" d="M50.1,65.7 57.5,64.1 64.8,57.4 72.2,44.5 76.5,28.8 80.4,18.7 84.0,13.4 90.2,0.0 17.1,0.0 22.1,10.7 25.2,22.1 27.9,29.4 31.3,42.8 35.4,52.1 43.5,62.5ZM188.5,65.6 189.9,65.7 196.5,62.5 203.9,53.4 208.7,42.8 212.1,29.4 214.8,22.1 217.9,10.7 222.9,0.0 149.8,0.0 156.0,13.4 159.6,18.7 163.5,28.8 167.8,44.5 175.2,57.4 182.5,64.1Z"/>
<path fill="#00ff39" d="M50.1,60.4 57.5,58.8 64.8,52.6 72.2,39.3 75.1,28.8 79.1,18.7 82.9,13.1 89.4,0.0 18.4,0.0 23.9,10.7 27.4,22.0 30.5,29.4 33.9,42.8 36.1,47.5 43.5,57.2ZM188.5,60.2 189.9,60.4 196.5,57.2 203.9,47.5 206.1,42.8 209.5,29.4 212.6,22.0 216.1,10.7 221.6,0.0 150.6,0.0 157.1,13.1 160.9,18.7 164.9,28.7 167.8,39.3 175.2,52.6 182.5,58.8Z"/>
<path fill="#00ff28" d="M50.1,55.0 57.5,53.5 64.8,47.7 71.5,35.5 73.7,28.8 77.7,18.7 82.2,12.3 88.7,0.0 19.8,0.0 25.5,10.7 29.7,22.1 33.0,28.8 36.9,42.8 43.5,51.9ZM188.5,54.9 189.9,55.0 196.5,51.9 203.1,42.8 207.0,28.8 210.3,22.1 214.5,10.7 220.2,0.0 151.4,0.0 157.8,12.3 162.3,18.7 166.3,28.8 168.5,35.5 175.2,47.7 182.5,53.5Z"/>
<path fill="#00ff18" d="M50.1,49.7 57.5,48.2 64.8,42.9 72.2,28.8 76.4,18.7 81.3,12.0 87.9,0.0 21.2,0.0 28.5,13.4 31.9,22.1 35.7,28.8 40.6,42.8 43.5,46.5ZM188.5,49.6 189.9,49.7 196.5,46.5 199.4,42.8 204.3,28.8 208.1,22.1 211.5,13.4 218.8,0.0 152.1,0.0 158.7,12.0 163.6,18.7 167.8,28.8 175.2,42.9 182.5,48.2Z"/>
<path fill="#00ff08" d="M50.1,44.4 57.5,42.8 64.8,36.9 68.8,29.4 72.2,25.6 75.1,18.7 82.2,9.1 87.2,0.0 22.6,0.0 25.4,6.1 30.3,13.4 35.4,24.3 39.6,29.4 43.5,39.9 46.8,42.8ZM188.5,44.3 189.9,44.4 193.2,42.8 196.5,39.9 200.4,29.4 204.6,24.3 209.7,13.4 214.6,6.1 217.4,0.0 152.8,0.0 157.8,9.1 164.9,18.7 167.8,25.6 171.2,29.4 175.2,36.9 182.5,42.8Z"/>
<path fill="#08ff00" d="M50.1,36.9 57.5,35.8 64.8,30.8 66.0,28.8 72.2,22.4 73.7,18.7 82.1,8.0 86.4,0.0 23.9,0.0 26.0,5.3 32.2,13.4 36.1,21.4ZM188.5,36.9 189.9,36.9 191.4,35.4 203.9,21.4 207.8,13.4 214.0,5.3 216.1,0.0 153.6,0.0 157.9,8.0 166.3,18.7 167.8,22.4 174.0,28.8 175.2,30.8 182.5,35.8Z"/>
<path fill="#18ff00" d="M50.8,28.9 57.5,28.9 64.8,26.5 71.5,20.0 80.9,8.7 85.6,0.0 24.7,0.0 27.0,5.3 34.0,13.4 36.6,18.1 43.5,25.1ZM182.5,28.9 189.9,28.7 196.5,25.1 203.9,17.4 206.0,13.4 212.6,5.9 215.3,0.0 154.3,0.0 158.6,8.0 168.5,20.0 175.2,26.5Z"/>
<path fill="#28ff00" d="M49.5,24.8 50.8,25.3 57.5,25.3 64.8,23.0 69.4,18.7 72.2,17.3 80.1,8.7 84.9,0.0 25.3,0.0 28.1,5.4 33.5,10.7 38.5,16.7 43.5,21.1ZM181.2,24.9 189.9,25.1 196.5,21.1 201.5,16.7 206.5,10.7 211.4,6.0 214.7,0.0 155.1,0.0 159.3,8.0 167.8,17.3 170.6,18.7 175.2,23.0Z"/>
<path fill="#39ff00" d="M50.1,21.6 57.5,21.7 64.8,19.4 71.5,16.3 80.2,7.7 84.2,0.0 26.0,0.0 29.4,5.8 40.7,16.0ZM181.8,21.5 189.9,21.6 197.6,17.4 210.6,5.8 214.0,0.0 155.8,0.0 159.8,7.7 168.2,16.0 175.2,19.4Z"/>
<path fill="#49ff00" d="M48.1,18.1 50.8,18.6 59.5,18.5 64.8,17.9 68.9,16.4 71.5,14.8 79.2,8.0 81.6,4.5 83.6,0.0 26.7,0.0 28.9,4.0 32.8,7.8 43.5,16.1ZM176.5,18.1 189.2,18.6 195.2,16.8 201.9,12.3 209.3,6.0 211.5,3.3 213.3,0.0 156.4,0.0 158.9,5.3 161.8,9.0 169.4,15.4 173.1,17.2Z"/>
<path fill="#59ff00" d="M50.1,17.5 60.2,17.5 64.8,16.9 68.2,15.5 72.9,12.7 78.5,8.0 80.9,4.7 83.0,0.0 27.3,0.0 30.8,5.0 38.8,11.6 46.2,16.0ZM178.5,17.4 189.2,17.6 193.8,16.0 200.7,12.0 208.2,6.0 210.7,3.3 212.7,0.0 157.0,0.0 160.4,6.8 166.3,12.0 173.1,16.1Z"/>
<path fill="#69ff00" d="M52.8,16.8 57.5,17.0 64.8,15.9 72.2,12.3 78.9,6.8 82.5,0.0 28.0,0.0 31.4,4.7 39.8,11.4 48.8,16.0ZM180.5,16.8 189.9,16.5 199.1,12.0 208.6,4.7 212.0,0.0 157.5,0.0 161.1,6.8 167.4,12.0 175.2,15.9Z"/>
<path fill="#79ff00" d="M55.5,16.1 58.2,16.1 64.8,14.9 72.2,11.6 78.3,6.7 82.0,0.0 28.7,0.0 32.3,4.7 37.4,9.1 41.1,11.4 50.1,15.5ZM181.8,16.1 189.9,15.5 198.6,11.5 202.6,9.1 207.7,4.7 211.3,0.0 158.0,0.0 161.7,6.7 167.8,11.6 175.2,14.9Z"/>
<path fill="#8aff00" d="M57.5,15.4 64.8,14.0 70.9,11.6 74.9,9.1 78.7,5.3 81.4,0.0 29.4,0.0 32.1,3.6 38.8,9.4 50.1,14.5ZM182.5,15.4 189.9,14.5 201.2,9.4 207.9,3.6 210.6,0.0 158.6,0.0 161.3,5.3 165.1,9.1 169.1,11.6 175.2,14.0Z"/>
<path fill="#9aff00" d="M53.5,14.1 57.5,14.6 64.8,13.3 71.5,10.5 77.0,6.7 79.4,3.3 80.9,0.0 30.0,0.0 32.7,3.3 38.8,8.9 46.8,12.5ZM179.8,14.1 182.5,14.6 189.9,13.6 199.9,9.6 201.9,8.4 207.2,3.4 210.0,0.0 159.1,0.0 161.8,5.2 165.3,8.7 172.5,12.3Z"/>
<path fill="#aaff00" d="M53.5,13.4 57.5,13.9 64.8,12.7 72.2,9.7 76.4,6.7 78.9,3.3 80.4,0.0 30.7,0.0 39.4,8.9 48.1,12.4ZM179.8,13.4 182.5,13.9 189.9,13.1 199.6,9.4 201.9,7.9 209.3,0.0 159.6,0.0 162.0,4.7 165.8,8.5 173.8,12.3Z"/>
<path fill="#baff00" d="M51.5,12.7 57.5,13.3 62.8,12.5 71.9,9.4 76.2,6.2 78.3,3.3 79.8,0.0 31.4,0.0 39.4,8.4ZM178.5,12.8 182.5,13.3 189.2,12.7 198.8,9.4 201.9,7.4 208.6,0.0 160.2,0.0 162.1,4.0 165.9,8.0 174.5,11.9Z"/>
<path fill="#caff00" d="M56.2,12.7 64.8,11.7 72.2,8.8 76.3,5.3 79.3,0.0 32.0,0.0 38.6,7.4 40.6,8.7 50.1,12.1ZM181.8,12.8 189.9,12.1 199.2,8.8 201.4,7.4 208.0,0.0 160.7,0.0 163.2,4.7 167.1,8.4 175.2,11.7Z"/>
<path fill="#dbff00" d="M54.2,12.1 57.5,12.4 63.5,11.4 71.5,8.7 75.7,5.3 78.8,0.0 32.7,0.0 38.5,6.7 40.8,8.4 50.1,11.6ZM180.5,12.1 182.5,12.4 189.2,11.7 198.6,8.8 201.2,7.0 207.3,0.0 161.2,0.0 163.3,4.0 167.3,8.0 175.2,11.1Z"/>
<path fill="#ebff00" d="M52.1,11.4 58.2,11.9 64.8,10.6 70.6,8.7 75.1,5.3 76.7,3.3 78.2,0.0 33.4,0.0 39.0,6.7 40.7,8.0 43.5,9.2ZM179.2,11.4 182.5,12.0 189.2,11.2 197.9,8.7 201.0,6.7 206.6,0.0 161.8,0.0 163.3,3.3 167.1,7.4 171.1,9.4Z"/>
<path fill="#fbff00" d="M56.8,11.4 64.8,10.2 71.2,8.0 73.2,6.7 75.5,4.1 77.7,0.0 34.0,0.0 39.5,6.7 42.1,8.4 50.1,10.6ZM181.8,11.4 189.2,10.8 197.9,8.4 200.5,6.7 206.0,0.0 162.3,0.0 164.4,4.0 168.5,7.8 175.2,10.2Z"/>
<path fill="#fff300" d="M54.8,10.8 57.5,11.1 64.8,9.9 70.2,8.1 72.6,6.7 74.9,4.2 77.1,0.0 34.7,0.0 40.0,6.7 41.9,8.0 50.1,10.3ZM180.5,10.7 182.5,11.1 189.2,10.4 197.2,8.4 200.0,6.7 205.3,0.0 162.9,0.0 164.5,3.4 168.5,7.4 173.1,9.4Z"/>
<path fill="#ffe300" d="M51.5,10.1 57.5,10.6 64.8,9.6 68.9,8.4 71.5,7.0 73.5,5.1 75.0,3.3 76.6,0.0 35.4,0.0 41.4,7.4 43.5,8.4ZM179.2,10.1 182.5,10.6 189.2,10.0 197.2,8.1 199.5,6.7 204.6,0.0 163.4,0.0 165.0,3.3 169.1,7.4 174.1,9.4Z"/>
<path fill="#ffd200" d="M55.5,10.1 64.8,9.4 69.5,7.7 73.9,4.0 76.1,0.0 36.0,0.0 40.9,6.7 42.8,7.9 50.1,9.7ZM181.2,10.1 189.9,9.7 197.2,7.9 199.1,6.7 204.0,0.0 163.9,0.0 165.5,3.3 169.7,7.4 175.2,9.4Z"/>
<path fill="#ffc200" d="M50.1,9.4 57.5,9.9 64.8,9.1 67.5,8.3 70.6,6.7 72.7,4.7 75.5,0.0 36.6,0.0 42.1,7.2ZM177.8,9.4 182.5,9.9 189.2,9.5 196.5,7.8 198.6,6.7 203.4,0.0 164.5,0.0 166.1,3.3 169.4,6.7 173.7,8.7Z"/>
<path fill="#ffb200" d="M52.8,9.4 57.5,9.7 64.2,8.9 68.2,7.7 70.0,6.7 72.8,4.0 75.0,0.0 37.2,0.0 40.1,4.4 42.8,7.3 50.1,9.2ZM179.8,9.4 189.2,9.3 196.5,7.6 198.1,6.7 202.8,0.0 165.0,0.0 166.6,3.3 170.0,6.7 175.2,8.9Z"/>
<path fill="#ffa200" d="M57.5,9.4 64.8,8.6 68.9,7.0 72.8,3.3 74.5,0.0 37.8,0.0 40.8,4.6 43.5,7.3 50.1,9.0ZM182.5,9.4 189.9,9.0 196.5,7.3 199.2,4.6 202.2,0.0 165.5,0.0 167.2,3.3 171.1,7.0 175.2,8.6Z"/>
<path fill="#ff9200" d="M50.1,8.7 57.5,9.1 66.2,7.9 68.8,6.7 72.2,3.4 73.9,0.0 38.4,0.0 42.9,6.7ZM178.5,8.7 182.5,9.1 189.2,8.8 196.5,7.0 199.7,3.3 201.6,0.0 166.1,0.0 167.7,3.3 171.2,6.7 175.2,8.4Z"/>
<path fill="#ff8200" d="M54.2,8.7 64.2,8.2 66.9,7.4 71.6,3.3 73.4,0.0 39.0,0.0 40.8,3.3 43.6,6.7 50.1,8.5ZM181.2,8.7 189.9,8.5 196.4,6.7 199.2,3.3 201.0,0.0 166.6,0.0 168.4,3.3 171.9,6.7 175.2,8.1Z"/>
<path fill="#ff7100" d="M49.5,8.1 57.5,8.6 64.8,7.9 67.5,6.7 70.8,3.3 72.9,0.0 39.6,0.0 41.2,3.3 43.5,6.0ZM177.2,8.1 182.5,8.6 189.2,8.3 195.5,6.7 198.6,3.6 200.4,0.0 167.1,0.0 169.2,3.3 172.5,6.7 175.2,7.9Z"/>
<path fill="#ff6100" d="M50.8,8.1 57.5,8.3 65.5,7.4 66.9,6.7 72.3,0.0 40.2,0.0 41.7,3.3 43.5,5.4 45.5,6.7ZM179.8,8.1 189.2,8.1 194.5,6.7 197.8,4.0 199.8,0.0 167.7,0.0 173.1,6.7 175.2,7.6Z"/>
<path fill="#ff5100" d="M56.8,8.0 64.8,7.3 66.2,6.7 71.5,0.0 40.8,0.0 42.8,4.2 46.4,6.7 50.1,7.7ZM182.5,8.1 189.9,7.7 193.6,6.7 197.2,4.2 199.2,0.0 168.5,0.0 173.8,6.7 175.2,7.3Z"/>
<path fill="#ff4100" d="M50.1,7.5 57.5,7.8 64.8,7.0 68.3,3.3 70.4,0.0 41.4,0.0 42.6,3.3 43.5,4.2 47.4,6.7ZM177.8,7.4 182.5,7.8 189.2,7.6 192.6,6.7 197.2,3.5 198.6,0.0 169.6,0.0 174.4,6.7Z"/>
<path fill="#ff3100" d="M52.1,7.4 57.5,7.5 64.8,6.7 67.5,3.3 69.3,0.0 42.0,0.0 43.5,3.6 46.1,4.8 48.3,6.7ZM181.2,7.4 189.2,7.3 191.7,6.7 193.9,4.8 196.8,3.3 198.0,0.0 170.7,0.0 175.0,6.7Z"/>
<path fill="#ff2000" d="M49.5,6.7 57.5,7.3 62.7,6.7 64.8,5.8 66.7,3.3 68.2,0.0 42.6,0.0 43.5,2.1ZM177.8,6.7 182.5,7.3 190.7,6.7 196.5,2.1 197.4,0.0 171.8,0.0 173.3,3.3 175.2,5.8Z"/>
<path fill="#ff1000" d="M50.8,6.7 59.8,6.7 64.8,4.8 65.9,3.3 67.0,0.0 43.3,0.0ZM180.5,6.7 189.6,6.7 196.7,0.0 172.9,0.0 174.1,3.3 175.2,4.8Z"/>
<path fill="#ff0000" d="M57.5,6.0 60.4,4.7 64.8,3.7 65.9,0.0 46.6,0.0 48.5,3.3 50.8,5.2ZM182.5,6.0 189.2,5.2 191.5,3.3 193.3,0.0 174.1,0.0 175.2,3.7 179.6,4.7Z"/></svg>
<line x1="481.5" y1="64.4" x2="721.5" y2="64.4" stroke="#c8504c" stroke-width="1.1" stroke-dasharray="3.95 3.97" stroke-dashoffset="-0.5"/>
<line x1="481.5" y1="29.5" x2="721.5" y2="29.5" stroke="#000" stroke-width="1"/>
<path d="M481.5,29.5 V259.5 H721.5 V29.5" fill="none" stroke="#000" stroke-width="1"/>
<line x1="477.30" y1="29.50" x2="481.5" y2="29.50" stroke="#000" stroke-width="1"/>
<line x1="479.10" y1="42.28" x2="481.5" y2="42.28" stroke="#000" stroke-width="1"/>
<line x1="477.30" y1="55.06" x2="481.5" y2="55.06" stroke="#000" stroke-width="1"/>
<line x1="479.10" y1="67.83" x2="481.5" y2="67.83" stroke="#000" stroke-width="1"/>
<line x1="477.30" y1="80.61" x2="481.5" y2="80.61" stroke="#000" stroke-width="1"/>
<line x1="479.10" y1="93.39" x2="481.5" y2="93.39" stroke="#000" stroke-width="1"/>
<line x1="477.30" y1="106.17" x2="481.5" y2="106.17" stroke="#000" stroke-width="1"/>
<line x1="479.10" y1="118.94" x2="481.5" y2="118.94" stroke="#000" stroke-width="1"/>
<line x1="477.30" y1="131.72" x2="481.5" y2="131.72" stroke="#000" stroke-width="1"/>
<line x1="479.10" y1="144.50" x2="481.5" y2="144.50" stroke="#000" stroke-width="1"/>
<line x1="477.30" y1="157.28" x2="481.5" y2="157.28" stroke="#000" stroke-width="1"/>
<line x1="479.10" y1="170.06" x2="481.5" y2="170.06" stroke="#000" stroke-width="1"/>
<line x1="477.30" y1="182.83" x2="481.5" y2="182.83" stroke="#000" stroke-width="1"/>
<line x1="479.10" y1="195.61" x2="481.5" y2="195.61" stroke="#000" stroke-width="1"/>
<line x1="477.30" y1="208.39" x2="481.5" y2="208.39" stroke="#000" stroke-width="1"/>
<line x1="479.10" y1="221.17" x2="481.5" y2="221.17" stroke="#000" stroke-width="1"/>
<line x1="477.30" y1="233.94" x2="481.5" y2="233.94" stroke="#000" stroke-width="1"/>
<line x1="479.10" y1="246.72" x2="481.5" y2="246.72" stroke="#000" stroke-width="1"/>
<line x1="477.30" y1="259.50" x2="481.5" y2="259.50" stroke="#000" stroke-width="1"/>
<line x1="481.50" y1="259.5" x2="481.50" y2="264.00" stroke="#000" stroke-width="1"/>
<line x1="505.50" y1="259.5" x2="505.50" y2="261.90" stroke="#000" stroke-width="1"/>
<line x1="529.50" y1="259.5" x2="529.50" y2="264.00" stroke="#000" stroke-width="1"/>
<line x1="553.50" y1="259.5" x2="553.50" y2="261.90" stroke="#000" stroke-width="1"/>
<line x1="577.50" y1="259.5" x2="577.50" y2="264.00" stroke="#000" stroke-width="1"/>
<line x1="601.50" y1="259.5" x2="601.50" y2="261.90" stroke="#000" stroke-width="1"/>
<line x1="625.50" y1="259.5" x2="625.50" y2="264.00" stroke="#000" stroke-width="1"/>
<line x1="649.50" y1="259.5" x2="649.50" y2="261.90" stroke="#000" stroke-width="1"/>
<line x1="673.50" y1="259.5" x2="673.50" y2="264.00" stroke="#000" stroke-width="1"/>
<line x1="697.50" y1="259.5" x2="697.50" y2="261.90" stroke="#000" stroke-width="1"/>
<line x1="721.50" y1="259.5" x2="721.50" y2="264.00" stroke="#000" stroke-width="1"/>
<svg x="734.5" y="31.5" width="25.00" height="223.00" viewBox="0 0 25.00 223.00" preserveAspectRatio="none"><rect x="0" y="0" width="25" height="223.00" fill="#0000ff"/>
<rect x="0" y="0" width="25" height="219.52" fill="#0010ff"/>
<rect x="0" y="0" width="25" height="216.03" fill="#0020ff"/>
<rect x="0" y="0" width="25" height="212.55" fill="#0031ff"/>
<rect x="0" y="0" width="25" height="209.06" fill="#0041ff"/>
<rect x="0" y="0" width="25" height="205.58" fill="#0051ff"/>
<rect x="0" y="0" width="25" height="202.09" fill="#0061ff"/>
<rect x="0" y="0" width="25" height="198.61" fill="#0071ff"/>
<rect x="0" y="0" width="25" height="195.12" fill="#0082ff"/>
<rect x="0" y="0" width="25" height="191.64" fill="#0092ff"/>
<rect x="0" y="0" width="25" height="188.16" fill="#00a2ff"/>
<rect x="0" y="0" width="25" height="184.67" fill="#00b2ff"/>
<rect x="0" y="0" width="25" height="181.19" fill="#00c2ff"/>
<rect x="0" y="0" width="25" height="177.70" fill="#00d2ff"/>
<rect x="0" y="0" width="25" height="174.22" fill="#00e3ff"/>
<rect x="0" y="0" width="25" height="170.73" fill="#00f3ff"/>
<rect x="0" y="0" width="25" height="167.25" fill="#00fffb"/>
<rect x="0" y="0" width="25" height="163.77" fill="#00ffeb"/>
<rect x="0" y="0" width="25" height="160.28" fill="#00ffdb"/>
<rect x="0" y="0" width="25" height="156.80" fill="#00ffca"/>
<rect x="0" y="0" width="25" height="153.31" fill="#00ffba"/>
<rect x="0" y="0" width="25" height="149.83" fill="#00ffaa"/>
<rect x="0" y="0" width="25" height="146.34" fill="#00ff9a"/>
<rect x="0" y="0" width="25" height="142.86" fill="#00ff8a"/>
<rect x="0" y="0" width="25" height="139.38" fill="#00ff79"/>
<rect x="0" y="0" width="25" height="135.89" fill="#00ff69"/>
<rect x="0" y="0" width="25" height="132.41" fill="#00ff59"/>
<rect x="0" y="0" width="25" height="128.92" fill="#00ff49"/>
<rect x="0" y="0" width="25" height="125.44" fill="#00ff39"/>
<rect x="0" y="0" width="25" height="121.95" fill="#00ff28"/>
<rect x="0" y="0" width="25" height="118.47" fill="#00ff18"/>
<rect x="0" y="0" width="25" height="114.98" fill="#00ff08"/>
<rect x="0" y="0" width="25" height="111.50" fill="#08ff00"/>
<rect x="0" y="0" width="25" height="108.02" fill="#18ff00"/>
<rect x="0" y="0" width="25" height="104.53" fill="#28ff00"/>
<rect x="0" y="0" width="25" height="101.05" fill="#39ff00"/>
<rect x="0" y="0" width="25" height="97.56" fill="#49ff00"/>
<rect x="0" y="0" width="25" height="94.08" fill="#59ff00"/>
<rect x="0" y="0" width="25" height="90.59" fill="#69ff00"/>
<rect x="0" y="0" width="25" height="87.11" fill="#79ff00"/>
<rect x="0" y="0" width="25" height="83.62" fill="#8aff00"/>
<rect x="0" y="0" width="25" height="80.14" fill="#9aff00"/>
<rect x="0" y="0" width="25" height="76.66" fill="#aaff00"/>
<rect x="0" y="0" width="25" height="73.17" fill="#baff00"/>
<rect x="0" y="0" width="25" height="69.69" fill="#caff00"/>
<rect x="0" y="0" width="25" height="66.20" fill="#dbff00"/>
<rect x="0" y="0" width="25" height="62.72" fill="#ebff00"/>
<rect x="0" y="0" width="25" height="59.23" fill="#fbff00"/>
<rect x="0" y="0" width="25" height="55.75" fill="#fff300"/>
<rect x="0" y="0" width="25" height="52.27" fill="#ffe300"/>
<rect x="0" y="0" width="25" height="48.78" fill="#ffd200"/>
<rect x="0" y="0" width="25" height="45.30" fill="#ffc200"/>
<rect x="0" y="0" width="25" height="41.81" fill="#ffb200"/>
<rect x="0" y="0" width="25" height="38.33" fill="#ffa200"/>
<rect x="0" y="0" width="25" height="34.84" fill="#ff9200"/>
<rect x="0" y="0" width="25" height="31.36" fill="#ff8200"/>
<rect x="0" y="0" width="25" height="27.88" fill="#ff7100"/>
<rect x="0" y="0" width="25" height="24.39" fill="#ff6100"/>
<rect x="0" y="0" width="25" height="20.91" fill="#ff5100"/>
<rect x="0" y="0" width="25" height="17.42" fill="#ff4100"/>
<rect x="0" y="0" width="25" height="13.94" fill="#ff3100"/>
<rect x="0" y="0" width="25" height="10.45" fill="#ff2000"/>
<rect x="0" y="0" width="25" height="6.97" fill="#ff1000"/>
<rect x="0" y="0" width="25" height="3.48" fill="#ff0000"/></svg>
<path d="M734.5,31.5 V254.5 H759.5 V31.5" fill="none" stroke="#000" stroke-width="1"/>
<line x1="734.0" y1="31.5" x2="760.0" y2="31.5" stroke="#b0b0b0" stroke-width="1"/>
<line x1="759.5" y1="31.50" x2="764.00" y2="31.50" stroke="#b0b0b0" stroke-width="1"/>
<line x1="759.5" y1="46.37" x2="764.00" y2="46.37" stroke="#000" stroke-width="1"/>
<line x1="759.5" y1="61.23" x2="764.00" y2="61.23" stroke="#000" stroke-width="1"/>
<line x1="759.5" y1="76.10" x2="764.00" y2="76.10" stroke="#000" stroke-width="1"/>
<line x1="759.5" y1="90.97" x2="764.00" y2="90.97" stroke="#000" stroke-width="1"/>
<line x1="759.5" y1="105.83" x2="764.00" y2="105.83" stroke="#000" stroke-width="1"/>
<line x1="759.5" y1="120.70" x2="764.00" y2="120.70" stroke="#000" stroke-width="1"/>
<line x1="759.5" y1="135.57" x2="764.00" y2="135.57" stroke="#000" stroke-width="1"/>
<line x1="759.5" y1="150.43" x2="764.00" y2="150.43" stroke="#000" stroke-width="1"/>
<line x1="759.5" y1="165.30" x2="764.00" y2="165.30" stroke="#000" stroke-width="1"/>
<line x1="759.5" y1="180.17" x2="764.00" y2="180.17" stroke="#000" stroke-width="1"/>
<line x1="759.5" y1="195.03" x2="764.00" y2="195.03" stroke="#000" stroke-width="1"/>
<line x1="759.5" y1="209.90" x2="764.00" y2="209.90" stroke="#000" stroke-width="1"/>
<line x1="759.5" y1="224.77" x2="764.00" y2="224.77" stroke="#000" stroke-width="1"/>
<line x1="759.5" y1="239.63" x2="764.00" y2="239.63" stroke="#000" stroke-width="1"/>
<line x1="759.5" y1="254.50" x2="764.00" y2="254.50" stroke="#000" stroke-width="1"/>
<svg x="58.5" y="365.5" width="260.00" height="249.00" viewBox="0 0 260.00 249.00" preserveAspectRatio="none"><rect x="0" y="0" width="260" height="249" fill="#0000ff"/>
<path fill="#0010ff" d="M0.7,249.0 260.0,249.0 260.0,0.0 0.0,0.0 0.0,249.0Z"/>
<path fill="#0020ff" d="M0.7,248.6 260.0,248.6 260.0,0.0 0.0,0.0 0.0,248.6Z"/>
<path fill="#0031ff" d="M0.7,247.9 260.0,247.9 260.0,0.0 0.0,0.0 0.0,247.9Z"/>
<path fill="#0041ff" d="M0.7,247.2 260.0,247.2 260.0,0.0 0.0,0.0 0.0,247.2Z"/>
<path fill="#0051ff" d="M0.7,246.5 260.0,246.5 260.0,0.0 0.0,0.0 0.0,246.5Z"/>
<path fill="#0061ff" d="M0.7,245.8 260.0,245.8 260.0,0.0 0.0,0.0 0.0,245.8Z"/>
<path fill="#0071ff" d="M0.7,245.1 260.0,245.1 260.0,0.0 0.0,0.0 0.0,245.1Z"/>
<path fill="#0082ff" d="M0.7,244.4 260.0,244.4 260.0,0.0 0.0,0.0 0.0,244.4Z"/>
<path fill="#0092ff" d="M0.7,243.6 260.0,243.6 260.0,0.0 0.0,0.0 0.0,243.6Z"/>
<path fill="#00a2ff" d="M0.7,242.9 260.0,242.9 260.0,0.0 0.0,0.0 0.0,242.9Z"/>
<path fill="#00b2ff" d="M0.7,242.2 260.0,242.2 260.0,0.0 0.0,0.0 0.0,242.2Z"/>
<path fill="#00c2ff" d="M0.7,241.5 260.0,241.5 260.0,0.0 0.0,0.0 0.0,241.5Z"/>
<path fill="#00d2ff" d="M0.7,240.8 260.0,240.8 260.0,0.0 0.0,0.0 0.0,240.8Z"/>
<path fill="#00e3ff" d="M0.7,240.1 260.0,240.1 260.0,0.0 0.0,0.0 0.0,240.1Z"/>
<path fill="#00f3ff" d="M0.7,239.4 260.0,239.4 260.0,0.0 0.0,0.0 0.0,239.4Z"/>
<path fill="#00fffb" d="M0.7,238.7 260.0,238.7 260.0,0.0 0.0,0.0 0.0,238.7Z"/>
<path fill="#00ffeb" d="M0.7,238.0 130.3,237.5 260.0,238.0 260.0,0.0 0.0,0.0 0.0,238.0Z"/>
<path fill="#00ffdb" d="M0.7,237.4 96.9,237.1 130.3,236.3 162.4,237.1 260.0,237.3 260.0,0.0 0.0,0.0 0.0,237.4Z"/>
<path fill="#00ffca" d="M0.7,236.7 96.9,236.3 130.3,235.2 162.4,236.3 260.0,236.6 260.0,0.0 0.0,0.0 0.0,236.7Z"/>
<path fill="#00ffba" d="M0.7,236.0 96.9,235.5 130.3,234.0 162.4,235.5 260.0,236.0 260.0,0.0 0.0,0.0 0.0,236.0Z"/>
<path fill="#00ffaa" d="M0.7,235.4 96.9,234.7 130.3,232.9 162.4,234.7 260.0,235.3 260.0,0.0 0.0,0.0 0.0,235.4Z"/>
<path fill="#00ff9a" d="M0.7,234.7 96.9,233.9 130.3,231.7 139.7,232.0 162.4,233.9 260.0,234.6 260.0,0.0 0.0,0.0 0.0,234.7Z"/>
<path fill="#00ff8a" d="M0.7,234.1 96.9,233.1 121.0,230.9 130.3,230.5 139.7,230.9 162.4,233.1 260.0,233.9 260.0,0.0 0.0,0.0 0.0,234.1Z"/>
<path fill="#00ff79" d="M0.7,233.4 96.9,232.4 121.0,229.8 130.3,229.4 139.7,229.8 162.4,232.4 260.0,233.2 260.0,0.0 0.0,0.0 0.0,233.4Z"/>
<path fill="#00ff69" d="M0.7,232.8 96.9,231.6 121.0,228.6 130.3,228.2 139.7,228.7 162.4,231.6 207.9,232.4 260.0,232.6 260.0,0.0 0.0,0.0 0.0,232.8Z"/>
<path fill="#00ff59" d="M0.7,232.1 96.9,230.8 115.9,228.2 130.3,227.5 144.3,228.2 162.4,230.8 207.9,231.7 260.0,231.9 260.0,0.0 0.0,0.0 0.0,232.1Z"/>
<path fill="#00ff49" d="M0.7,231.4 52.1,231.0 96.9,230.0 112.3,227.9 129.7,226.8 139.7,227.1 162.4,230.0 207.9,231.0 260.0,231.2 260.0,0.0 0.0,0.0 0.0,231.4Z"/>
<path fill="#00ff39" d="M0.7,230.8 52.1,230.3 96.9,229.2 112.3,227.2 129.7,226.1 139.7,226.4 162.4,229.2 207.9,230.3 260.0,230.5 260.0,0.0 0.0,0.0 0.0,230.8Z"/>
<path fill="#00ff28" d="M0.7,230.1 52.1,229.6 96.9,228.4 121.0,225.7 129.7,225.4 139.7,225.7 162.4,228.4 207.9,229.6 260.0,229.9 260.0,0.0 0.0,0.0 0.0,230.1Z"/>
<path fill="#00ff18" d="M0.7,229.5 52.1,228.9 96.9,227.8 121.0,224.9 129.7,224.7 139.7,225.0 162.4,227.8 207.9,228.9 260.0,229.2 260.0,0.0 244.6,0.0 243.3,1.8 240.4,0.0 9.3,0.0 6.7,1.2 0.0,1.7 0.0,229.5Z"/>
<path fill="#00ff08" d="M0.7,228.8 96.9,227.2 121.0,224.2 129.7,223.9 139.7,224.3 162.4,227.2 207.9,228.3 260.0,228.5 260.0,0.0 246.7,0.0 243.3,4.8 236.5,0.0 15.5,0.0 6.7,4.3 0.0,4.1 0.0,228.8Z"/>
<path fill="#08ff00" d="M0.7,228.1 96.9,226.6 121.0,223.5 129.7,223.2 139.7,223.6 162.4,226.6 207.9,227.6 260.0,227.7 260.0,0.0 248.8,0.0 243.3,7.5 242.4,7.4 237.7,3.3 232.6,0.0 17.4,0.0 16.0,2.7 6.7,7.3 0.0,6.5 0.0,228.1Z"/>
<path fill="#18ff00" d="M0.7,227.3 96.9,226.0 112.3,223.7 129.7,222.5 139.7,222.9 162.4,226.0 207.9,226.9 260.0,226.9 260.0,0.0 250.8,0.0 245.1,7.4 243.3,8.7 239.4,7.4 234.6,3.5 228.9,0.0 18.6,0.0 16.0,5.8 12.8,7.4 6.7,9.1 0.0,8.5 0.0,227.3Z"/>
<path fill="#28ff00" d="M0.7,226.5 96.9,225.4 112.3,223.1 129.7,221.8 139.7,222.2 162.4,225.4 207.9,226.2 260.0,226.1 260.0,0.0 252.0,0.0 246.7,7.4 243.3,9.8 236.5,7.4 229.3,2.3 227.2,0.0 19.8,0.0 16.9,7.4 16.0,8.4 6.7,10.8 0.0,10.3 0.0,226.5Z"/>
<path fill="#39ff00" d="M0.7,225.7 96.9,224.8 104.3,224.0 112.3,222.4 129.7,221.1 139.7,221.5 162.4,224.8 207.9,225.5 260.0,225.3 260.0,0.0 253.1,0.0 251.3,3.3 248.3,7.4 243.3,10.9 233.6,7.4 228.6,3.8 225.6,0.0 21.1,0.0 18.2,7.4 16.0,10.7 6.7,12.6 0.0,12.2 0.0,225.7Z"/>
<path fill="#49ff00" d="M0.7,224.9 96.9,224.2 104.3,223.4 112.3,221.7 129.7,220.4 139.7,220.8 162.4,224.2 207.9,224.9 260.0,224.5 260.0,0.0 254.1,0.0 249.9,7.4 243.3,12.0 230.7,7.4 228.6,5.8 224.0,0.0 22.3,0.0 19.6,7.4 16.0,12.9 6.7,14.7 0.0,14.2 0.0,224.9Z"/>
<path fill="#59ff00" d="M0.7,224.1 96.9,223.6 104.3,222.8 112.3,221.0 129.7,219.7 139.0,220.0 147.7,221.0 162.4,223.6 199.2,224.2 260.0,223.6 260.0,0.0 255.2,0.0 251.4,7.4 243.3,13.4 228.6,7.6 222.3,0.0 23.5,0.0 20.9,7.4 16.0,15.5 6.7,17.0 0.0,16.5 0.0,224.1Z"/>
<path fill="#69ff00" d="M0.7,223.3 96.9,223.0 104.3,222.2 112.3,220.3 129.7,219.0 139.0,219.3 147.7,220.3 155.7,222.2 162.4,223.0 199.2,223.5 260.0,222.8 260.0,0.0 256.2,0.0 252.6,7.4 245.5,12.7 243.3,15.4 238.6,12.7 228.5,8.7 226.6,7.4 220.6,0.0 24.7,0.0 22.2,7.4 16.0,18.1 6.7,19.3 0.0,18.8 0.0,223.3Z"/>
<path fill="#79ff00" d="M196.5,222.9 260.0,222.0 260.0,0.0 257.3,0.0 253.8,7.4 247.1,12.7 243.3,17.4 235.7,12.7 229.3,10.2 226.8,8.7 225.0,7.4 218.9,0.0 25.9,0.0 23.5,7.4 16.0,20.6 6.7,21.6 0.0,21.0 0.0,222.4 52.1,222.8 96.9,222.4 104.3,221.5 112.3,219.6 130.3,218.3 139.0,218.6 147.7,219.6 161.7,222.4Z"/>
<path fill="#8aff00" d="M189.8,222.2 260.0,221.2 260.0,0.0 258.4,0.0 255.1,7.4 248.7,12.7 243.3,19.4 234.0,13.4 228.6,11.1 225.2,8.8 221.5,5.4 217.2,0.0 28.0,0.0 24.8,7.4 16.0,23.2 6.7,23.9 0.0,23.3 0.0,221.6 77.5,222.2 96.9,221.8 104.3,220.9 112.3,219.0 121.0,217.9 130.3,217.6 139.0,217.9 147.7,218.9 161.7,221.8Z"/>
<path fill="#9aff00" d="M72.9,221.6 96.9,221.2 104.3,220.3 112.3,218.3 121.0,217.2 129.7,216.8 139.0,217.2 147.7,218.3 155.7,220.3 162.4,221.2 199.2,221.6 260.0,220.3 260.0,0.0 259.4,0.0 256.3,7.4 249.7,13.4 243.3,21.4 221.3,7.4 215.4,0.0 30.1,0.0 23.0,12.7 16.0,27.3 6.7,27.3 0.0,26.4 0.0,220.8 26.1,220.7Z"/>
<path fill="#aaff00" d="M66.8,220.9 96.9,220.6 104.3,219.7 112.3,217.6 121.0,216.5 129.7,216.1 139.0,216.4 147.7,217.6 155.7,219.7 162.4,220.6 198.5,221.0 260.0,219.5 260.0,1.4 257.6,7.4 251.3,13.4 243.3,23.5 219.3,7.4 213.7,0.0 32.2,0.0 24.3,12.7 19.0,24.1 16.0,32.1 0.0,29.9 0.0,220.0 26.1,219.9Z"/>
<path fill="#baff00" d="M63.5,220.2 96.9,220.0 104.3,219.1 112.3,216.9 121.0,215.8 129.7,215.4 139.0,215.7 147.7,216.9 155.7,219.1 162.4,220.0 198.5,220.4 260.0,218.7 260.0,4.4 258.3,8.0 253.0,13.4 244.9,23.4 243.3,28.0 242.6,27.6 240.6,24.1 217.3,7.4 211.9,0.0 34.3,0.0 25.6,12.7 20.6,24.1 16.0,36.8 8.0,34.6 0.0,33.5 0.0,219.2 26.1,219.1Z"/>
<path fill="#caff00" d="M62.2,219.6 96.9,219.5 104.3,218.4 112.3,216.2 121.0,215.0 129.7,214.6 139.0,215.0 147.7,216.2 155.7,218.4 162.4,219.5 198.5,219.7 260.0,217.7 260.0,7.4 246.0,24.1 243.3,33.3 237.7,24.1 228.2,17.4 223.2,12.8 215.1,7.4 210.1,0.0 36.5,0.0 26.1,15.1 22.2,24.1 18.1,36.8 16.7,44.8 16.0,46.1 6.7,39.5 0.0,37.1 0.0,218.3 26.1,218.3Z"/>
<path fill="#dbff00" d="M60.8,218.9 96.9,218.9 104.3,217.8 112.3,215.6 121.0,214.3 129.7,213.7 139.0,214.2 147.7,215.6 155.7,217.8 162.4,218.9 198.5,219.1 260.0,216.7 260.0,9.2 247.6,24.1 244.0,36.8 243.3,46.6 242.1,36.8 234.8,24.1 227.1,18.7 221.1,13.4 213.2,7.8 208.3,0.0 38.6,0.0 29.3,12.7 23.7,24.1 19.8,36.8 17.8,49.5 16.0,55.9 3.7,45.5 0.0,43.1 0.0,217.4 26.1,217.4Z"/>
<path fill="#ebff00" d="M62.2,218.2 78.2,218.6 96.9,218.3 104.3,217.2 112.3,214.9 129.7,212.8 139.7,213.5 162.4,218.3 198.5,218.4 223.2,217.0 260.0,215.7 260.0,11.1 249.2,24.1 246.1,37.5 243.3,75.3 242.6,74.5 242.1,70.3 239.7,37.5 239.0,35.5 231.9,24.1 225.2,19.6 217.4,12.7 211.9,8.8 210.4,7.4 207.9,3.1 204.3,0.0 43.3,0.0 38.8,2.2 31.3,12.7 26.1,22.4 21.4,36.8 17.2,73.6 16.0,78.5 6.7,59.8 5.2,54.9 0.0,49.2 0.0,216.4 26.1,216.5Z"/>
<path fill="#fbff00" d="M68.2,217.6 96.9,217.7 104.3,216.6 112.3,214.2 129.7,211.8 139.7,212.7 147.7,214.1 155.7,216.6 162.4,217.7 191.8,217.8 260.0,214.6 260.0,12.9 256.0,18.4 250.9,24.1 248.3,36.8 246.4,55.6 243.3,105.4 242.6,105.8 240.7,93.7 239.3,78.3 237.2,36.8 228.9,24.1 221.0,18.7 215.1,13.4 210.5,10.0 199.6,0.0 166.0,0.0 162.4,1.0 160.7,0.0 98.5,0.0 96.9,1.1 93.5,0.0 48.6,0.0 38.8,4.7 33.2,12.7 30.6,18.7 27.5,24.1 26.1,27.1 23.1,36.8 19.5,83.0 16.7,91.3 15.9,91.7 11.4,87.9 8.7,84.3 6.7,80.4 3.1,69.6 0.0,55.3 0.0,215.4 26.1,215.5Z"/>
<path fill="#fff300" d="M72.2,216.9 96.9,217.1 104.3,215.9 112.3,213.4 129.7,210.8 147.7,213.4 155.7,215.9 162.4,217.1 191.2,216.9 227.7,214.9 243.3,212.1 250.6,212.8 260.0,212.7 260.0,15.4 253.0,24.1 250.3,37.5 248.2,55.6 243.7,135.2 243.3,139.7 242.6,139.8 237.4,119.8 236.8,113.1 235.6,86.3 234.8,36.8 233.9,35.3 229.9,31.6 224.8,24.1 198.5,2.9 192.1,0.0 169.1,0.1 162.4,1.9 159.6,0.0 99.8,0.0 96.9,2.0 90.9,0.1 59.8,0.0 51.5,0.9 38.8,7.1 35.1,12.7 30.2,24.1 28.9,28.8 26.1,32.8 24.8,36.8 23.0,85.0 21.3,94.4 19.8,98.4 17.7,101.7 16.7,106.3 16.0,107.5 13.4,106.2 9.3,103.7 5.3,100.4 2.1,95.7 0.0,89.1 0.0,213.3 16.0,213.6Z"/>
<path fill="#ffe300" d="M75.5,216.2 96.9,216.6 104.3,215.3 112.3,212.6 130.3,209.8 148.4,212.7 155.7,215.3 161.7,216.5 191.2,216.0 217.9,213.7 225.9,211.8 230.6,209.5 232.9,202.8 233.9,197.8 237.8,193.4 239.3,186.0 240.4,175.4 238.9,156.6 234.6,137.9 229.5,119.8 229.4,36.8 225.3,29.5 220.9,24.1 205.2,10.7 195.2,4.2 190.5,2.1 179.8,1.0 169.1,1.1 161.7,2.8 158.5,0.0 101.1,0.0 96.9,3.0 90.9,1.1 64.8,1.0 51.5,3.0 41.4,7.9 38.8,10.0 37.0,12.7 32.9,24.1 32.9,119.8 29.4,122.4 27.5,125.2 23.6,137.9 21.4,156.6 20.2,175.4 17.8,193.4 16.7,197.9 16.0,198.0 15.7,196.8 12.5,175.4 10.7,170.0 7.4,164.9 0.0,159.0 0.0,207.9 10.7,206.3 16.0,204.5 22.2,209.5 33.4,212.3 44.8,214.2ZM253.3,210.2 260.0,210.7 260.0,18.0 255.1,24.1 252.5,36.8 250.1,54.9 248.4,83.0 246.2,137.9 244.2,157.3 243.6,175.4 243.8,193.4 245.0,202.1 246.3,205.5 248.6,208.7 250.6,209.9Z"/>
<path fill="#ffd200" d="M78.2,215.5 96.9,216.0 103.4,214.9 111.6,211.9 125.6,209.5 129.7,208.1 148.4,211.9 156.5,214.9 162.4,216.0 185.8,215.3 199.8,214.3 213.9,212.1 222.1,209.5 225.3,202.8 228.0,193.4 230.5,175.4 231.5,157.3 228.5,139.9 226.7,119.8 226.6,36.8 223.6,31.5 219.9,26.7 207.9,16.2 204.7,12.7 201.1,10.0 191.2,4.9 186.5,3.4 179.8,2.4 169.1,2.1 161.7,3.7 157.4,0.0 102.3,0.0 96.9,3.9 90.9,2.1 78.2,1.8 64.8,2.4 56.8,3.6 52.1,4.7 46.5,7.4 39.1,12.7 35.6,24.1 37.1,37.5 37.1,119.8 29.7,138.6 27.9,156.6 26.9,193.4 25.3,202.8 28.9,206.2 32.8,208.6 42.8,211.7 59.0,214.2ZM259.3,207.5 260.0,207.7 260.0,20.6 257.2,24.1 256.3,27.4 251.9,55.6 250.3,83.0 249.0,138.6 247.1,157.3 247.6,182.7 248.3,193.4 249.6,199.5 250.5,202.8 251.3,203.8 254.7,205.9ZM0.7,203.0 4.6,198.1 7.1,193.4 3.3,181.1 1.1,175.4 0.0,174.1 0.0,203.2Z"/>
<path fill="#ffc200" d="M80.9,214.9 98.3,215.2 111.0,211.3 120.2,209.5 130.3,206.3 140.2,209.5 150.4,211.7 161.7,215.4 185.1,214.4 200.5,212.7 212.9,210.2 214.6,209.5 218.3,204.2 221.7,194.1 224.5,179.4 226.9,157.3 225.1,138.6 224.3,119.8 224.3,36.8 221.3,32.1 217.9,28.0 207.9,19.2 202.0,12.7 199.0,10.7 187.1,5.6 179.8,3.8 169.1,3.1 161.7,4.7 156.3,0.0 103.6,0.0 100.5,2.7 96.9,4.8 90.9,3.1 78.2,2.8 65.5,3.7 59.5,4.7 50.8,7.4 44.8,11.1 42.1,13.4 38.2,24.1 40.5,36.8 41.0,119.8 38.8,127.6 34.6,138.6 31.5,156.6 32.6,202.8 43.2,209.5 46.8,210.6 61.5,213.2ZM259.3,203.7 260.0,204.0 260.0,23.2 258.4,26.8 256.6,34.1 253.8,55.6 252.1,83.0 251.6,138.6 250.1,156.6 250.7,175.4 252.9,193.4 256.0,200.4 257.7,202.8Z"/>
<path fill="#ffb200" d="M86.2,214.2 96.9,214.8 108.3,211.2 115.7,209.5 130.3,204.4 139.7,207.4 144.5,209.5 152.4,211.4 161.7,214.8 179.8,213.7 198.5,211.5 207.6,209.5 213.4,202.8 216.5,193.4 219.4,180.1 222.4,156.6 221.7,120.5 221.9,36.8 216.2,29.5 207.9,22.3 199.3,12.7 196.5,11.0 191.2,8.7 179.1,5.0 169.1,4.2 161.7,5.6 154.9,0.0 105.1,0.0 100.9,3.5 96.9,5.7 90.9,4.1 78.2,3.8 62.2,5.6 52.6,8.7 45.6,13.4 41.2,24.1 43.4,36.8 43.4,83.0 44.5,119.8 37.6,144.6 35.0,156.6 36.2,179.4 38.1,196.7 39.6,202.8 49.9,209.5 64.8,212.4ZM260.0,197.6 260.0,27.7 257.5,36.8 255.6,55.6 253.9,83.0 253.4,119.8 253.7,138.6 252.7,156.6 254.0,174.0 255.4,183.4 257.5,193.4Z"/>
<path fill="#ffa200" d="M92.9,213.5 96.9,213.8 111.2,209.5 129.7,202.4 139.7,205.5 148.7,209.5 162.4,213.8 179.8,212.6 199.2,209.9 202.5,208.0 208.1,202.8 211.6,193.4 213.5,185.4 215.6,175.4 218.3,156.6 219.6,83.0 219.6,37.5 215.9,32.2 206.8,24.1 197.4,13.4 194.3,11.4 187.8,8.8 178.5,6.2 169.1,5.2 161.7,6.6 158.4,4.5 153.3,0.0 106.7,0.0 101.6,4.2 96.9,6.7 90.9,5.2 78.2,4.8 67.3,6.0 61.5,7.3 55.5,9.5 50.7,12.0 49.1,13.4 47.7,16.1 44.2,24.1 46.0,36.8 46.0,83.0 47.2,119.8 42.4,137.9 38.6,156.6 40.3,175.4 43.2,193.4 46.7,202.8 56.3,209.5 65.5,211.3ZM260.0,186.4 260.0,33.0 259.0,36.8 255.8,83.0 255.3,101.7 255.8,138.6 255.1,156.6 257.2,173.4Z"/>
<path fill="#ff9200" d="M90.9,212.2 96.9,212.6 107.1,209.5 112.3,206.8 129.7,199.9 145.7,206.0 152.5,209.5 162.4,212.6 179.8,211.4 192.5,209.5 198.5,206.2 202.5,202.8 206.4,194.1 208.2,188.1 211.2,175.1 214.2,156.6 216.8,101.1 217.2,37.5 215.2,34.5 205.5,25.4 194.8,13.4 193.2,12.2 186.5,9.5 179.1,7.6 169.1,6.2 161.7,7.5 157.7,5.1 151.7,0.0 108.3,0.0 102.3,4.9 96.9,7.5 90.9,6.2 78.2,5.8 63.5,8.2 53.2,12.7 49.7,18.7 47.2,24.1 48.4,36.8 48.4,83.0 49.5,119.8 45.3,138.6 43.1,156.6 45.6,175.4 48.8,191.8 50.1,195.8 53.8,202.8 62.6,209.5 77.5,211.4ZM260.0,171.3 260.0,44.7 257.4,101.7 257.9,138.6 257.6,156.6Z"/>
<path fill="#ff8200" d="M87.6,210.9 96.9,211.4 101.1,210.2 108.9,206.1 129.7,197.4 137.0,199.7 142.9,202.8 151.1,206.2 156.4,209.5 162.4,211.4 179.1,210.4 183.9,209.5 191.2,206.4 195.8,203.5 196.7,202.8 198.5,199.5 201.4,193.4 205.5,179.4 210.3,156.6 211.3,138.6 213.3,119.8 214.2,101.7 214.7,83.0 214.7,37.5 213.2,35.4 202.7,25.4 191.4,12.7 185.8,10.4 179.1,8.5 169.1,7.2 161.7,8.2 157.3,6.0 150.1,0.0 109.9,0.0 102.9,5.7 96.9,8.2 90.9,7.2 78.2,6.8 69.5,8.2 62.8,10.0 56.8,12.7 51.5,21.5 50.3,24.1 50.7,83.0 51.8,119.8 48.4,138.6 47.7,156.6 50.1,171.4 55.4,193.4 60.9,202.8 65.5,206.4 71.4,209.5ZM260.0,135.5 260.0,85.9 259.6,101.7Z"/>
<path fill="#ff7100" d="M96.2,210.2 98.9,209.5 103.5,206.2 111.5,202.8 117.6,198.8 129.7,194.8 135.7,196.2 142.6,198.8 148.5,202.8 155.7,206.1 160.2,209.5 161.7,210.1 171.7,209.5 179.1,208.2 190.7,202.8 195.8,193.4 201.8,175.4 205.9,157.3 207.7,138.6 210.5,119.8 211.9,83.0 211.9,37.5 211.2,36.2 201.2,26.8 188.8,12.7 179.1,9.4 169.1,8.1 162.4,8.9 160.4,8.5 157.5,7.4 153.5,4.7 148.5,0.0 111.5,0.0 108.3,3.3 104.9,5.8 102.2,7.4 97.6,8.8 90.9,8.1 78.2,7.9 68.8,9.7 62.8,11.6 59.7,13.4 53.5,24.1 52.9,36.8 52.9,83.0 53.9,119.8 51.4,138.6 52.3,156.6 55.8,173.4 58.7,184.1 62.1,193.4 68.0,202.8 72.9,205.8 78.2,208.2 86.3,209.5Z"/>
<path fill="#ff6100" d="M94.9,206.9 96.9,207.2 104.3,202.8 108.0,199.5 112.3,196.9 123.4,193.4 129.7,189.9 137.0,193.4 147.7,196.9 151.7,199.5 155.2,202.8 161.7,207.0 179.1,204.4 183.2,202.8 189.3,194.1 191.2,190.6 196.7,175.4 200.5,160.6 203.6,138.6 207.7,119.8 209.1,83.0 209.1,37.5 209.0,36.8 199.8,28.4 186.2,12.7 179.1,10.3 169.1,9.0 162.4,9.6 159.1,8.8 152.2,5.4 149.0,2.6 147.1,0.0 112.9,0.0 110.3,3.2 106.9,5.9 104.6,7.4 99.6,9.0 96.9,9.6 90.9,9.0 78.2,9.0 64.0,12.7 57.0,24.1 55.0,36.8 55.0,83.0 56.1,119.8 54.9,138.6 57.2,157.3 61.6,175.4 64.8,184.6 69.0,193.4 75.1,202.8 78.2,204.4Z"/>
<path fill="#ff5100" d="M96.9,202.9 101.6,196.8 111.6,190.2 125.0,184.6 130.3,183.0 137.0,185.2 148.4,190.2 157.1,196.2 159.7,199.1 161.7,202.6 162.6,202.8 169.1,199.8 179.8,196.0 184.5,189.5 191.2,176.2 196.6,156.6 199.5,138.6 204.2,119.8 205.9,83.0 205.9,37.5 205.8,36.8 196.5,28.1 183.6,12.7 177.8,11.0 169.1,9.9 161.7,10.3 157.7,9.2 152.9,7.4 150.4,5.6 147.7,3.1 145.8,0.0 114.3,0.0 112.1,3.3 108.9,6.1 106.3,7.7 101.6,9.3 96.9,10.3 90.9,9.9 78.2,10.1 68.1,12.7 64.8,16.8 60.6,24.1 58.2,31.5 57.2,37.5 57.2,83.0 58.4,137.9 60.4,149.9 66.0,171.4 76.1,193.4 77.5,195.8 78.2,196.5 87.6,199.3Z"/>
<path fill="#ff4100" d="M95.6,187.6 96.9,188.0 104.1,183.4 112.3,179.9 121.0,177.4 130.3,176.0 139.5,177.4 148.4,180.1 155.1,183.2 162.4,187.9 179.1,182.6 184.5,175.3 191.2,158.6 195.0,138.6 200.6,119.8 202.3,83.0 202.3,37.5 202.3,36.8 194.0,28.8 181.0,12.7 169.1,10.8 161.7,11.0 153.7,8.9 150.3,7.4 147.9,5.4 144.5,0.0 115.7,0.0 113.9,3.3 111.6,5.8 108.9,7.8 104.9,9.3 96.9,11.0 90.9,10.8 78.2,11.2 72.4,12.7 71.5,13.4 64.1,24.1 61.2,31.5 59.5,37.5 59.5,83.0 62.0,138.6 64.8,150.5 74.4,174.7 78.2,182.5Z"/>
<path fill="#ff3100" d="M95.6,172.2 97.6,172.4 111.6,166.6 121.0,160.9 130.3,158.6 139.0,160.7 148.4,166.6 162.4,172.5 179.1,166.6 184.5,158.5 190.1,138.6 196.8,119.8 198.8,83.0 198.8,37.5 198.7,36.8 194.3,32.8 189.7,27.4 179.1,13.4 169.1,11.6 161.1,11.6 151.5,9.4 148.8,8.0 146.3,6.0 144.5,3.3 143.2,0.0 117.1,0.0 115.7,3.3 113.8,6.0 111.0,8.2 107.6,9.7 96.9,11.7 88.9,11.7 76.8,12.7 75.8,13.4 64.8,30.1 62.4,36.8 62.3,83.0 63.7,119.8 65.5,135.8 78.2,166.6Z"/>
<path fill="#ff2000" d="M95.6,155.4 96.9,155.8 111.6,150.5 121.0,145.0 130.3,143.1 139.0,144.8 148.4,150.5 162.4,155.7 179.1,149.0 183.8,138.6 191.2,124.8 192.8,119.8 194.8,83.0 194.7,36.8 187.8,29.8 179.1,18.0 172.3,13.4 170.4,12.7 158.4,12.0 151.7,10.8 147.8,9.4 145.7,8.0 144.0,6.0 141.9,0.0 118.5,0.0 117.3,4.0 115.8,6.7 113.6,8.6 110.7,10.0 101.6,12.0 88.0,12.7 84.3,13.4 78.2,16.6 65.4,36.8 65.4,83.0 66.4,101.7 68.1,119.8 68.9,123.2 72.6,135.2 78.2,148.9Z"/>
<path fill="#ff1000" d="M96.2,138.0 98.6,137.9 111.6,134.1 121.0,126.3 130.3,123.6 139.0,126.1 148.4,134.1 161.7,138.2 179.1,130.1 181.8,127.5 184.5,125.8 187.7,119.8 189.5,101.7 190.6,83.0 190.5,36.8 187.3,34.1 183.1,29.5 180.5,24.1 179.1,22.6 173.8,20.5 169.1,17.3 161.7,15.0 159.4,13.4 149.0,11.7 144.4,9.8 141.9,6.7 140.5,0.0 119.9,0.0 118.3,7.0 115.5,10.0 110.3,11.8 100.0,13.4 78.2,23.6 74.9,30.8 71.2,36.8 71.1,83.0 72.2,101.7 74.3,119.8 78.2,129.5Z"/>
<path fill="#ff0000" d="M96.9,119.7 104.0,113.8 115.6,107.1 130.3,101.4 139.7,104.7 144.6,107.1 155.4,113.8 161.7,119.5 167.1,112.9 174.1,101.7 179.1,86.1 179.8,85.1 184.3,83.0 184.3,37.5 179.1,36.3 174.6,33.5 170.4,29.5 166.8,24.1 151.1,18.7 147.1,16.1 144.6,13.4 141.0,11.6 140.0,10.0 139.0,5.2 136.8,0.0 123.6,0.0 119.6,11.4 115.7,13.4 113.0,16.1 108.8,18.7 102.3,21.0 96.9,22.1 92.8,24.1 90.5,28.1 87.6,31.6 84.2,34.3 79.5,36.8 79.3,83.0 85.0,101.7 90.8,111.1Z"/></svg>
<line x1="58.5" y1="402.4" x2="255" y2="402.4" stroke="#000" stroke-width="1.4" stroke-dasharray="4.3 4.3" stroke-dashoffset="-0.5"/>
<line x1="256.2" y1="402.9" x2="318.5" y2="402.9" stroke="rgba(40,30,0,0.62)" stroke-width="1.6" stroke-dasharray="4.2 4.3"/>
<line x1="58.5" y1="365.5" x2="318.5" y2="365.5" stroke="#444" stroke-width="1"/>
<path d="M58.5,365.5 V614.5 H318.5 V365.5" fill="none" stroke="#000" stroke-width="1"/>
<line x1="54.30" y1="365.50" x2="58.5" y2="365.50" stroke="#777" stroke-width="1"/>
<line x1="56.10" y1="379.33" x2="58.5" y2="379.33" stroke="#000" stroke-width="1"/>
<line x1="54.30" y1="393.17" x2="58.5" y2="393.17" stroke="#000" stroke-width="1"/>
<line x1="56.10" y1="407.00" x2="58.5" y2="407.00" stroke="#000" stroke-width="1"/>
<line x1="54.30" y1="420.83" x2="58.5" y2="420.83" stroke="#000" stroke-width="1"/>
<line x1="56.10" y1="434.67" x2="58.5" y2="434.67" stroke="#000" stroke-width="1"/>
<line x1="54.30" y1="448.50" x2="58.5" y2="448.50" stroke="#000" stroke-width="1"/>
<line x1="56.10" y1="462.33" x2="58.5" y2="462.33" stroke="#000" stroke-width="1"/>
<line x1="54.30" y1="476.17" x2="58.5" y2="476.17" stroke="#000" stroke-width="1"/>
<line x1="56.10" y1="490.00" x2="58.5" y2="490.00" stroke="#000" stroke-width="1"/>
<line x1="54.30" y1="503.83" x2="58.5" y2="503.83" stroke="#000" stroke-width="1"/>
<line x1="56.10" y1="517.67" x2="58.5" y2="517.67" stroke="#000" stroke-width="1"/>
<line x1="54.30" y1="531.50" x2="58.5" y2="531.50" stroke="#000" stroke-width="1"/>
<line x1="56.10" y1="545.33" x2="58.5" y2="545.33" stroke="#000" stroke-width="1"/>
<line x1="54.30" y1="559.17" x2="58.5" y2="559.17" stroke="#000" stroke-width="1"/>
<line x1="56.10" y1="573.00" x2="58.5" y2="573.00" stroke="#000" stroke-width="1"/>
<line x1="54.30" y1="586.83" x2="58.5" y2="586.83" stroke="#000" stroke-width="1"/>
<line x1="56.10" y1="600.67" x2="58.5" y2="600.67" stroke="#000" stroke-width="1"/>
<line x1="54.30" y1="614.50" x2="58.5" y2="614.50" stroke="#000" stroke-width="1"/>
<line x1="58.50" y1="614.5" x2="58.50" y2="619.00" stroke="#000" stroke-width="1"/>
<line x1="84.50" y1="614.5" x2="84.50" y2="616.90" stroke="#000" stroke-width="1"/>
<line x1="110.50" y1="614.5" x2="110.50" y2="619.00" stroke="#000" stroke-width="1"/>
<line x1="136.50" y1="614.5" x2="136.50" y2="616.90" stroke="#000" stroke-width="1"/>
<line x1="162.50" y1="614.5" x2="162.50" y2="619.00" stroke="#000" stroke-width="1"/>
<line x1="188.50" y1="614.5" x2="188.50" y2="616.90" stroke="#000" stroke-width="1"/>
<line x1="214.50" y1="614.5" x2="214.50" y2="619.00" stroke="#000" stroke-width="1"/>
<line x1="240.50" y1="614.5" x2="240.50" y2="616.90" stroke="#000" stroke-width="1"/>
<line x1="266.50" y1="614.5" x2="266.50" y2="619.00" stroke="#000" stroke-width="1"/>
<line x1="292.50" y1="614.5" x2="292.50" y2="616.90" stroke="#000" stroke-width="1"/>
<line x1="318.50" y1="614.5" x2="318.50" y2="619.00" stroke="#000" stroke-width="1"/>
<svg x="329.5" y="367.5" width="27.00" height="242.00" viewBox="0 0 27.00 242.00" preserveAspectRatio="none"><rect x="0" y="0" width="27" height="242.00" fill="#0000ff"/>
<rect x="0" y="0" width="27" height="238.22" fill="#0010ff"/>
<rect x="0" y="0" width="27" height="234.44" fill="#0020ff"/>
<rect x="0" y="0" width="27" height="230.66" fill="#0031ff"/>
<rect x="0" y="0" width="27" height="226.88" fill="#0041ff"/>
<rect x="0" y="0" width="27" height="223.09" fill="#0051ff"/>
<rect x="0" y="0" width="27" height="219.31" fill="#0061ff"/>
<rect x="0" y="0" width="27" height="215.53" fill="#0071ff"/>
<rect x="0" y="0" width="27" height="211.75" fill="#0082ff"/>
<rect x="0" y="0" width="27" height="207.97" fill="#0092ff"/>
<rect x="0" y="0" width="27" height="204.19" fill="#00a2ff"/>
<rect x="0" y="0" width="27" height="200.41" fill="#00b2ff"/>
<rect x="0" y="0" width="27" height="196.62" fill="#00c2ff"/>
<rect x="0" y="0" width="27" height="192.84" fill="#00d2ff"/>
<rect x="0" y="0" width="27" height="189.06" fill="#00e3ff"/>
<rect x="0" y="0" width="27" height="185.28" fill="#00f3ff"/>
<rect x="0" y="0" width="27" height="181.50" fill="#00fffb"/>
<rect x="0" y="0" width="27" height="177.72" fill="#00ffeb"/>
<rect x="0" y="0" width="27" height="173.94" fill="#00ffdb"/>
<rect x="0" y="0" width="27" height="170.16" fill="#00ffca"/>
<rect x="0" y="0" width="27" height="166.38" fill="#00ffba"/>
<rect x="0" y="0" width="27" height="162.59" fill="#00ffaa"/>
<rect x="0" y="0" width="27" height="158.81" fill="#00ff9a"/>
<rect x="0" y="0" width="27" height="155.03" fill="#00ff8a"/>
<rect x="0" y="0" width="27" height="151.25" fill="#00ff79"/>
<rect x="0" y="0" width="27" height="147.47" fill="#00ff69"/>
<rect x="0" y="0" width="27" height="143.69" fill="#00ff59"/>
<rect x="0" y="0" width="27" height="139.91" fill="#00ff49"/>
<rect x="0" y="0" width="27" height="136.12" fill="#00ff39"/>
<rect x="0" y="0" width="27" height="132.34" fill="#00ff28"/>
<rect x="0" y="0" width="27" height="128.56" fill="#00ff18"/>
<rect x="0" y="0" width="27" height="124.78" fill="#00ff08"/>
<rect x="0" y="0" width="27" height="121.00" fill="#08ff00"/>
<rect x="0" y="0" width="27" height="117.22" fill="#18ff00"/>
<rect x="0" y="0" width="27" height="113.44" fill="#28ff00"/>
<rect x="0" y="0" width="27" height="109.66" fill="#39ff00"/>
<rect x="0" y="0" width="27" height="105.88" fill="#49ff00"/>
<rect x="0" y="0" width="27" height="102.09" fill="#59ff00"/>
<rect x="0" y="0" width="27" height="98.31" fill="#69ff00"/>
<rect x="0" y="0" width="27" height="94.53" fill="#79ff00"/>
<rect x="0" y="0" width="27" height="90.75" fill="#8aff00"/>
<rect x="0" y="0" width="27" height="86.97" fill="#9aff00"/>
<rect x="0" y="0" width="27" height="83.19" fill="#aaff00"/>
<rect x="0" y="0" width="27" height="79.41" fill="#baff00"/>
<rect x="0" y="0" width="27" height="75.62" fill="#caff00"/>
<rect x="0" y="0" width="27" height="71.84" fill="#dbff00"/>
<rect x="0" y="0" width="27" height="68.06" fill="#ebff00"/>
<rect x="0" y="0" width="27" height="64.28" fill="#fbff00"/>
<rect x="0" y="0" width="27" height="60.50" fill="#fff300"/>
<rect x="0" y="0" width="27" height="56.72" fill="#ffe300"/>
<rect x="0" y="0" width="27" height="52.94" fill="#ffd200"/>
<rect x="0" y="0" width="27" height="49.16" fill="#ffc200"/>
<rect x="0" y="0" width="27" height="45.38" fill="#ffb200"/>
<rect x="0" y="0" width="27" height="41.59" fill="#ffa200"/>
<rect x="0" y="0" width="27" height="37.81" fill="#ff9200"/>
<rect x="0" y="0" width="27" height="34.03" fill="#ff8200"/>
<rect x="0" y="0" width="27" height="30.25" fill="#ff7100"/>
<rect x="0" y="0" width="27" height="26.47" fill="#ff6100"/>
<rect x="0" y="0" width="27" height="22.69" fill="#ff5100"/>
<rect x="0" y="0" width="27" height="18.91" fill="#ff4100"/>
<rect x="0" y="0" width="27" height="15.12" fill="#ff3100"/>
<rect x="0" y="0" width="27" height="11.34" fill="#ff2000"/>
<rect x="0" y="0" width="27" height="7.56" fill="#ff1000"/>
<rect x="0" y="0" width="27" height="3.78" fill="#ff0000"/></svg>
<path d="M329.5,367.5 V609.5 H356.5 V367.5" fill="none" stroke="#000" stroke-width="1"/>
<line x1="329.0" y1="367.5" x2="357.0" y2="367.5" stroke="#000" stroke-width="1"/>
<line x1="356.5" y1="367.50" x2="361.00" y2="367.50" stroke="#000" stroke-width="1"/>
<line x1="356.5" y1="383.63" x2="361.00" y2="383.63" stroke="#000" stroke-width="1"/>
<line x1="356.5" y1="399.77" x2="361.00" y2="399.77" stroke="#000" stroke-width="1"/>
<line x1="356.5" y1="415.90" x2="361.00" y2="415.90" stroke="#000" stroke-width="1"/>
<line x1="356.5" y1="432.03" x2="361.00" y2="432.03" stroke="#000" stroke-width="1"/>
<line x1="356.5" y1="448.17" x2="361.00" y2="448.17" stroke="#000" stroke-width="1"/>
<line x1="356.5" y1="464.30" x2="361.00" y2="464.30" stroke="#000" stroke-width="1"/>
<line x1="356.5" y1="480.43" x2="361.00" y2="480.43" stroke="#000" stroke-width="1"/>
<line x1="356.5" y1="496.57" x2="361.00" y2="496.57" stroke="#000" stroke-width="1"/>
<line x1="356.5" y1="512.70" x2="361.00" y2="512.70" stroke="#000" stroke-width="1"/>
<line x1="356.5" y1="528.83" x2="361.00" y2="528.83" stroke="#000" stroke-width="1"/>
<line x1="356.5" y1="544.97" x2="361.00" y2="544.97" stroke="#000" stroke-width="1"/>
<line x1="356.5" y1="561.10" x2="361.00" y2="561.10" stroke="#000" stroke-width="1"/>
<line x1="356.5" y1="577.23" x2="361.00" y2="577.23" stroke="#000" stroke-width="1"/>
<line x1="356.5" y1="593.37" x2="361.00" y2="593.37" stroke="#000" stroke-width="1"/>
<line x1="356.5" y1="609.50" x2="361.00" y2="609.50" stroke="#000" stroke-width="1"/>
<svg x="480.5" y="372.5" width="243.00" height="233.00" viewBox="0 0 243.00 233.00" preserveAspectRatio="none"><rect x="0" y="0" width="243" height="233" fill="#0000ff"/>
<path fill="#0010ff" d="M60.2,148.2 73.0,148.4 83.7,143.6 85.0,142.9 88.9,138.6 97.1,127.7 109.8,120.7 121.2,113.5 145.9,127.7 153.0,137.3 158.0,142.9 166.7,147.1 170.0,148.4 182.1,148.4 195.2,142.6 206.2,131.3 211.2,123.2 216.0,112.5 220.6,95.1 228.2,60.3 229.6,42.9 230.3,0.0 12.7,0.0 13.4,42.9 14.8,60.3 22.4,95.1 26.8,111.9 32.9,125.2 36.8,131.2 40.2,135.2 48.9,143.4Z"/>
<path fill="#0020ff" d="M70.3,93.8 73.0,94.3 97.1,83.1 121.2,79.9 145.9,83.1 170.0,94.3 182.1,91.4 191.9,77.7 194.8,74.3 202.6,60.3 206.5,42.9 207.3,0.0 35.7,0.0 36.5,42.9 40.4,60.3 48.2,74.3 51.1,77.7 60.9,91.4Z"/>
<path fill="#0031ff" d="M106.4,65.0 133.9,65.3 147.3,63.4 158.0,63.0 170.0,61.6 175.1,60.3 176.7,59.1 178.7,56.7 180.3,53.6 182.4,43.5 182.8,14.7 183.7,0.0 59.3,0.0 60.2,14.7 60.6,43.5 62.1,51.6 64.4,56.9 67.9,60.3 73.0,61.6 85.0,63.0 95.7,63.4Z"/>
<path fill="#0041ff" d="M109.1,54.4 133.9,54.4 139.2,52.5 148.1,46.9 160.0,36.3 163.4,32.1 170.0,26.3 171.2,14.7 173.5,4.7 173.7,0.0 69.3,0.0 69.5,4.7 71.8,14.7 73.0,26.3 79.6,32.1 83.0,36.3 95.8,47.5 103.8,52.5Z"/>
<path fill="#0051ff" d="M113.1,48.2 133.2,48.0 139.2,45.0 151.0,32.1 158.7,26.1 161.7,14.7 167.2,4.7 167.4,0.0 75.6,0.0 75.8,4.7 81.3,14.7 84.3,26.1 92.0,32.1 103.8,45.0 109.1,47.9Z"/>
<path fill="#0061ff" d="M113.1,42.9 128.5,43.0 133.2,42.5 139.2,39.0 145.4,32.1 153.2,26.1 157.1,14.7 161.0,10.0 163.6,5.4 164.0,0.0 79.0,0.0 79.4,5.4 82.0,10.0 85.9,14.7 89.8,26.1 97.6,32.1 104.4,39.5 109.1,42.3Z"/>
<path fill="#0071ff" d="M109.8,38.2 114.5,38.7 133.2,38.2 138.6,35.1 141.4,32.1 149.7,26.1 153.8,14.7 160.7,7.4 161.8,4.7 162.0,0.0 81.0,0.0 81.2,4.7 82.3,7.4 89.2,14.7 93.3,26.1 101.6,32.1 104.4,35.1Z"/>
<path fill="#0082ff" d="M109.8,34.9 114.5,35.4 128.5,35.4 133.2,34.9 144.6,28.0 147.1,26.1 151.4,14.7 158.1,8.0 160.0,5.4 160.6,0.0 82.4,0.0 83.0,5.4 84.9,8.0 91.6,14.7 95.9,26.1 103.8,31.6Z"/>
<path fill="#0092ff" d="M109.8,32.2 114.5,32.6 129.2,32.6 133.9,32.0 139.2,30.0 145.0,26.1 149.4,14.7 156.3,8.0 158.6,4.7 158.9,0.0 84.1,0.0 84.4,4.7 86.7,8.0 93.6,14.7 98.0,26.1 103.8,30.0Z"/>
<path fill="#00a2ff" d="M109.8,30.8 133.2,30.8 139.2,28.7 143.1,26.1 147.8,14.7 154.8,8.0 156.8,5.4 157.5,0.0 85.5,0.0 85.9,4.7 88.2,8.0 95.2,14.7 99.9,26.1 104.4,29.0Z"/>
<path fill="#00b2ff" d="M109.1,29.6 114.5,30.0 133.2,29.7 139.2,27.6 141.4,26.1 146.4,14.7 153.6,8.0 155.5,5.4 156.2,0.0 86.8,0.0 87.5,5.4 89.4,8.0 96.6,14.7 101.6,26.1 104.4,27.9Z"/>
<path fill="#00c2ff" d="M110.5,28.8 133.2,28.8 139.2,26.6 140.3,25.4 145.1,14.7 152.5,8.0 154.4,5.4 155.1,0.0 87.9,0.0 88.6,5.4 90.5,8.0 97.9,14.7 103.1,26.1Z"/>
<path fill="#00d2ff" d="M113.8,28.1 133.2,27.9 138.4,26.1 143.8,14.7 151.5,8.0 153.5,5.4 154.2,0.0 88.8,0.0 89.5,5.4 91.5,8.0 99.2,14.7 104.4,25.9 109.1,27.8Z"/>
<path fill="#00e3ff" d="M109.1,27.0 128.5,27.4 133.2,27.1 136.3,26.1 139.2,22.4 142.7,14.7 150.6,8.0 152.6,5.4 153.3,0.0 89.7,0.0 90.0,4.7 91.0,6.3 100.3,14.7 104.4,23.4 106.7,26.1Z"/>
<path fill="#00f3ff" d="M109.1,26.3 128.5,26.7 134.4,26.1 138.6,21.1 141.7,14.7 149.7,8.0 151.9,5.4 152.6,0.0 90.4,0.0 91.1,5.4 93.3,8.0 101.3,14.7 104.4,21.1Z"/>
<path fill="#00fffb" d="M111.8,25.5 128.5,25.9 133.9,24.8 138.6,19.0 140.7,14.7 149.0,8.0 151.1,5.4 151.9,0.0 91.1,0.0 91.5,4.7 93.5,7.4 102.3,14.7 104.4,19.0 109.1,24.8Z"/>
<path fill="#00ffeb" d="M111.1,23.5 114.5,24.1 128.5,24.1 133.9,22.8 138.6,17.1 139.8,14.7 148.2,8.0 150.4,5.4 151.1,0.0 91.9,0.0 92.2,4.7 94.2,7.4 103.2,14.7 104.4,17.1 109.1,22.8Z"/>
<path fill="#00ffdb" d="M113.8,22.2 128.5,22.3 133.9,21.0 138.9,14.7 148.1,7.4 150.1,4.7 150.5,0.0 92.5,0.0 92.9,4.7 95.5,8.0 104.1,14.7 109.1,21.0Z"/>
<path fill="#00ffca" d="M111.8,20.1 114.5,20.6 128.5,20.6 133.2,19.7 137.7,14.7 147.5,7.4 149.5,4.7 149.9,0.0 93.1,0.0 93.5,4.7 96.1,8.0 105.3,14.7 109.1,19.4Z"/>
<path fill="#00ffba" d="M113.1,18.8 128.5,19.1 133.2,18.2 136.4,14.7 139.2,13.3 146.3,8.0 148.9,4.7 149.3,0.0 93.7,0.0 94.1,4.7 96.7,8.0 103.8,13.3 106.6,14.7 109.1,17.8Z"/>
<path fill="#00ffaa" d="M113.8,17.5 128.5,17.6 133.2,16.7 135.2,14.7 139.2,12.7 145.7,8.0 148.4,4.7 148.7,0.0 94.3,0.0 94.6,4.7 97.3,8.0 103.8,12.7 107.8,14.7 109.1,16.3Z"/>
<path fill="#00ff9a" d="M113.8,16.1 128.5,16.2 133.2,15.3 139.2,12.2 145.2,8.0 147.9,4.7 148.2,0.0 94.8,0.0 95.1,4.7 97.8,8.0 104.4,12.6 109.8,15.3Z"/>
<path fill="#00ff8a" d="M113.8,14.8 128.5,14.9 133.9,14.3 139.2,11.7 145.3,7.4 147.3,4.7 147.7,0.0 95.3,0.0 95.7,4.7 98.4,8.0 104.4,12.1 109.1,14.3Z"/>
<path fill="#00ff79" d="M111.8,14.1 128.5,14.3 133.9,13.8 139.2,11.3 144.7,7.4 146.9,4.7 147.2,0.0 95.8,0.0 96.1,4.7 98.9,8.0 104.4,11.7 109.1,13.8Z"/>
<path fill="#00ff69" d="M109.8,13.5 128.5,13.9 133.9,13.4 139.2,10.9 144.2,7.4 146.4,4.7 146.8,0.0 96.2,0.0 96.6,4.7 98.8,7.4 103.8,10.9Z"/>
<path fill="#00ff59" d="M114.5,13.4 133.9,12.9 139.2,10.6 143.7,7.4 146.0,4.7 146.3,0.0 96.7,0.0 97.0,4.7 100.0,8.0 103.8,10.6 109.1,12.9Z"/>
<path fill="#00ff49" d="M110.5,12.7 128.5,13.0 133.9,12.5 139.2,10.2 143.2,7.4 145.6,4.7 145.9,0.0 97.1,0.0 97.4,4.7 100.4,8.0 104.4,10.6Z"/>
<path fill="#00ff39" d="M109.1,12.1 114.5,12.6 133.9,12.1 139.2,9.9 142.8,7.4 145.1,4.7 145.5,0.0 97.5,0.0 97.9,4.7 100.2,7.4 103.8,9.9Z"/>
<path fill="#00ff28" d="M111.8,12.1 128.5,12.3 133.9,11.8 139.2,9.6 142.3,7.4 144.7,4.7 145.1,0.0 97.9,0.0 98.3,4.7 101.4,8.0 103.8,9.6 109.1,11.8Z"/>
<path fill="#00ff18" d="M109.1,11.4 114.5,11.9 128.5,11.9 133.9,11.4 139.2,9.3 141.9,7.4 144.3,4.7 144.7,0.0 98.3,0.0 98.7,4.7 101.1,7.4 103.8,9.3Z"/>
<path fill="#00ff08" d="M112.5,11.4 128.5,11.6 133.9,11.1 139.2,9.1 142.8,6.0 143.9,4.7 144.3,0.0 98.7,0.0 99.1,4.7 102.2,8.0 109.1,11.1Z"/>
<path fill="#08ff00" d="M109.1,10.8 114.5,11.3 133.9,10.8 139.2,8.8 143.0,5.4 143.5,4.7 143.9,0.0 99.1,0.0 99.5,4.7 100.0,5.4 103.8,8.8Z"/>
<path fill="#18ff00" d="M110.5,10.7 128.5,11.0 133.9,10.6 139.2,8.6 142.6,5.4 143.1,4.7 143.6,0.0 99.4,0.0 99.9,4.7 102.3,7.4 104.4,8.9Z"/>
<path fill="#28ff00" d="M114.5,10.7 133.2,10.5 138.6,8.6 142.8,4.7 143.2,0.0 99.8,0.0 100.2,4.7 103.4,8.0 109.1,10.3Z"/>
<path fill="#39ff00" d="M109.1,10.1 114.5,10.5 133.9,10.1 139.2,8.1 141.9,5.4 142.4,4.7 142.8,0.0 100.2,0.0 100.6,4.7 101.1,5.4 103.8,8.1Z"/>
<path fill="#49ff00" d="M111.1,10.1 133.9,9.9 138.8,8.0 141.5,5.4 142.1,4.7 142.5,0.0 100.5,0.0 100.9,4.7 103.8,7.7 109.1,9.9Z"/>
<path fill="#59ff00" d="M108.4,9.4 114.5,10.0 133.9,9.7 138.6,7.9 141.2,5.4 141.7,4.7 142.2,0.0 100.8,0.0 101.3,4.7 101.8,5.4 104.4,7.9Z"/>
<path fill="#69ff00" d="M109.1,9.4 114.5,9.8 133.9,9.4 138.6,7.6 140.9,5.4 141.4,4.7 141.8,0.0 101.2,0.0 101.6,4.7 102.1,5.4 104.4,7.6Z"/>
<path fill="#79ff00" d="M111.1,9.4 133.9,9.2 138.6,7.2 140.6,5.4 141.1,4.7 141.5,0.0 101.5,0.0 101.9,4.7 103.8,6.7 109.1,9.2Z"/>
<path fill="#8aff00" d="M114.5,9.4 133.9,9.0 137.9,7.3 140.3,5.4 140.8,4.7 141.2,0.0 101.8,0.0 102.2,4.7 104.4,6.9 109.1,9.0Z"/>
<path fill="#9aff00" d="M109.1,8.8 114.5,9.2 133.9,8.8 137.2,7.4 139.9,5.4 140.5,4.7 140.9,0.0 102.1,0.0 102.5,4.7 103.1,5.4 105.8,7.4Z"/>
<path fill="#aaff00" d="M109.8,8.7 128.5,9.0 133.9,8.6 139.7,5.4 140.2,4.7 140.6,0.0 102.4,0.0 102.8,4.7 103.3,5.4 107.5,8.0Z"/>
<path fill="#baff00" d="M112.5,8.7 133.9,8.4 138.6,6.0 139.9,4.7 140.3,0.0 102.7,0.0 103.1,4.7 103.8,5.5 109.1,8.4Z"/>
<path fill="#caff00" d="M109.1,8.3 114.5,8.6 133.9,8.3 139.6,4.7 140.0,0.0 103.0,0.0 103.4,4.7Z"/>
<path fill="#dbff00" d="M109.1,8.1 114.5,8.5 133.9,8.1 139.3,4.7 139.8,0.0 103.2,0.0 103.7,4.7Z"/>
<path fill="#ebff00" d="M110.5,8.0 128.5,8.3 133.9,7.8 139.0,4.7 139.5,0.0 103.5,0.0 104.0,4.7 109.1,7.8Z"/>
<path fill="#fbff00" d="M113.1,8.0 128.5,8.1 133.9,7.6 138.6,4.7 139.2,0.0 103.8,0.0 104.4,4.7 109.1,7.6Z"/>
<path fill="#fff300" d="M109.8,7.5 128.5,7.9 133.7,7.4 138.2,4.7 138.9,0.0 104.1,0.0 104.8,4.7Z"/>
<path fill="#ffe300" d="M111.1,7.4 128.5,7.7 133.9,7.1 137.8,4.7 138.5,0.0 104.5,0.0 105.2,4.7 109.1,7.1Z"/>
<path fill="#ffd200" d="M113.8,7.4 128.5,7.4 133.9,6.8 137.3,4.7 138.1,0.0 104.9,0.0 105.7,4.7 109.1,6.8Z"/>
<path fill="#ffc200" d="M109.8,6.7 114.5,7.2 133.2,6.7 136.9,4.7 137.7,0.0 105.3,0.0 106.1,4.7Z"/>
<path fill="#ffb200" d="M111.8,6.7 128.5,6.9 133.2,6.5 136.5,4.7 137.3,0.0 105.7,0.0 106.5,4.7 109.1,6.3Z"/>
<path fill="#ffa200" d="M109.1,6.1 114.5,6.7 133.2,6.3 136.1,4.7 136.9,0.0 106.1,0.0 106.9,4.7Z"/>
<path fill="#ff9200" d="M109.8,6.0 114.5,6.5 133.2,6.0 135.7,4.7 136.5,0.0 106.5,0.0 107.3,4.7Z"/>
<path fill="#ff8200" d="M112.5,6.1 128.5,6.2 133.2,5.8 135.3,4.7 136.1,0.0 106.9,0.0 107.7,4.7 109.1,5.6Z"/>
<path fill="#ff7100" d="M109.1,5.4 114.5,6.0 133.2,5.6 134.9,4.7 135.7,0.0 107.3,0.0 108.1,4.7Z"/>
<path fill="#ff6100" d="M109.8,5.4 114.5,5.8 133.2,5.4 134.5,4.7 135.3,0.0 107.7,0.0 108.5,4.7Z"/>
<path fill="#ff5100" d="M112.5,5.4 128.5,5.6 133.2,5.1 134.1,4.7 134.9,0.0 108.1,0.0 108.9,4.7Z"/>
<path fill="#ff4100" d="M114.5,5.4 128.5,5.4 133.2,4.8 133.9,4.1 134.6,0.0 108.4,0.0 109.3,4.7Z"/>
<path fill="#ff3100" d="M111.1,4.7 128.5,5.1 132.3,4.7 133.2,3.8 134.2,0.0 108.8,0.0 109.8,3.8Z"/>
<path fill="#ff2000" d="M113.1,4.7 130.2,4.7 133.2,1.7 133.8,0.0 109.2,0.0 109.8,1.7Z"/>
<path fill="#ff1000" d="M113.8,3.6 114.5,4.0 128.5,4.0 132.8,0.0 110.2,0.0Z"/>
<path fill="#ff0000" d="M113.8,1.6 114.5,2.0 128.5,2.0 130.8,0.0 112.2,0.0Z"/></svg>
<line x1="480.5" y1="408.4" x2="723.5" y2="408.4" stroke="#ff0a0a" stroke-width="1.2" stroke-dasharray="4 4" stroke-dashoffset="-0.5"/>
<line x1="480.5" y1="372.5" x2="723.5" y2="372.5" stroke="#000" stroke-width="1"/>
<path d="M480.5,372.5 V605.5 H723.5 V372.5" fill="none" stroke="#000" stroke-width="1"/>
<line x1="476.30" y1="372.50" x2="480.5" y2="372.50" stroke="#000" stroke-width="1"/>
<line x1="478.10" y1="385.44" x2="480.5" y2="385.44" stroke="#000" stroke-width="1"/>
<line x1="476.30" y1="398.39" x2="480.5" y2="398.39" stroke="#000" stroke-width="1"/>
<line x1="478.10" y1="411.33" x2="480.5" y2="411.33" stroke="#000" stroke-width="1"/>
<line x1="476.30" y1="424.28" x2="480.5" y2="424.28" stroke="#000" stroke-width="1"/>
<line x1="478.10" y1="437.22" x2="480.5" y2="437.22" stroke="#000" stroke-width="1"/>
<line x1="476.30" y1="450.17" x2="480.5" y2="450.17" stroke="#000" stroke-width="1"/>
<line x1="478.10" y1="463.11" x2="480.5" y2="463.11" stroke="#000" stroke-width="1"/>
<line x1="476.30" y1="476.06" x2="480.5" y2="476.06" stroke="#000" stroke-width="1"/>
<line x1="478.10" y1="489.00" x2="480.5" y2="489.00" stroke="#000" stroke-width="1"/>
<line x1="476.30" y1="501.94" x2="480.5" y2="501.94" stroke="#000" stroke-width="1"/>
<line x1="478.10" y1="514.89" x2="480.5" y2="514.89" stroke="#000" stroke-width="1"/>
<line x1="476.30" y1="527.83" x2="480.5" y2="527.83" stroke="#000" stroke-width="1"/>
<line x1="478.10" y1="540.78" x2="480.5" y2="540.78" stroke="#000" stroke-width="1"/>
<line x1="476.30" y1="553.72" x2="480.5" y2="553.72" stroke="#000" stroke-width="1"/>
<line x1="478.10" y1="566.67" x2="480.5" y2="566.67" stroke="#000" stroke-width="1"/>
<line x1="476.30" y1="579.61" x2="480.5" y2="579.61" stroke="#000" stroke-width="1"/>
<line x1="478.10" y1="592.56" x2="480.5" y2="592.56" stroke="#000" stroke-width="1"/>
<line x1="476.30" y1="605.50" x2="480.5" y2="605.50" stroke="#000" stroke-width="1"/>
<line x1="480.50" y1="605.5" x2="480.50" y2="610.00" stroke="#000" stroke-width="1"/>
<line x1="504.80" y1="605.5" x2="504.80" y2="607.90" stroke="#000" stroke-width="1"/>
<line x1="529.10" y1="605.5" x2="529.10" y2="610.00" stroke="#000" stroke-width="1"/>
<line x1="553.40" y1="605.5" x2="553.40" y2="607.90" stroke="#000" stroke-width="1"/>
<line x1="577.70" y1="605.5" x2="577.70" y2="610.00" stroke="#000" stroke-width="1"/>
<line x1="602.00" y1="605.5" x2="602.00" y2="607.90" stroke="#000" stroke-width="1"/>
<line x1="626.30" y1="605.5" x2="626.30" y2="610.00" stroke="#000" stroke-width="1"/>
<line x1="650.60" y1="605.5" x2="650.60" y2="607.90" stroke="#000" stroke-width="1"/>
<line x1="674.90" y1="605.5" x2="674.90" y2="610.00" stroke="#000" stroke-width="1"/>
<line x1="699.20" y1="605.5" x2="699.20" y2="607.90" stroke="#000" stroke-width="1"/>
<line x1="723.50" y1="605.5" x2="723.50" y2="610.00" stroke="#000" stroke-width="1"/>
<svg x="735.5" y="376.5" width="25.00" height="225.00" viewBox="0 0 25.00 225.00" preserveAspectRatio="none"><rect x="0" y="0" width="25" height="225.00" fill="#0000ff"/>
<rect x="0" y="0" width="25" height="221.48" fill="#0010ff"/>
<rect x="0" y="0" width="25" height="217.97" fill="#0020ff"/>
<rect x="0" y="0" width="25" height="214.45" fill="#0031ff"/>
<rect x="0" y="0" width="25" height="210.94" fill="#0041ff"/>
<rect x="0" y="0" width="25" height="207.42" fill="#0051ff"/>
<rect x="0" y="0" width="25" height="203.91" fill="#0061ff"/>
<rect x="0" y="0" width="25" height="200.39" fill="#0071ff"/>
<rect x="0" y="0" width="25" height="196.88" fill="#0082ff"/>
<rect x="0" y="0" width="25" height="193.36" fill="#0092ff"/>
<rect x="0" y="0" width="25" height="189.84" fill="#00a2ff"/>
<rect x="0" y="0" width="25" height="186.33" fill="#00b2ff"/>
<rect x="0" y="0" width="25" height="182.81" fill="#00c2ff"/>
<rect x="0" y="0" width="25" height="179.30" fill="#00d2ff"/>
<rect x="0" y="0" width="25" height="175.78" fill="#00e3ff"/>
<rect x="0" y="0" width="25" height="172.27" fill="#00f3ff"/>
<rect x="0" y="0" width="25" height="168.75" fill="#00fffb"/>
<rect x="0" y="0" width="25" height="165.23" fill="#00ffeb"/>
<rect x="0" y="0" width="25" height="161.72" fill="#00ffdb"/>
<rect x="0" y="0" width="25" height="158.20" fill="#00ffca"/>
<rect x="0" y="0" width="25" height="154.69" fill="#00ffba"/>
<rect x="0" y="0" width="25" height="151.17" fill="#00ffaa"/>
<rect x="0" y="0" width="25" height="147.66" fill="#00ff9a"/>
<rect x="0" y="0" width="25" height="144.14" fill="#00ff8a"/>
<rect x="0" y="0" width="25" height="140.62" fill="#00ff79"/>
<rect x="0" y="0" width="25" height="137.11" fill="#00ff69"/>
<rect x="0" y="0" width="25" height="133.59" fill="#00ff59"/>
<rect x="0" y="0" width="25" height="130.08" fill="#00ff49"/>
<rect x="0" y="0" width="25" height="126.56" fill="#00ff39"/>
<rect x="0" y="0" width="25" height="123.05" fill="#00ff28"/>
<rect x="0" y="0" width="25" height="119.53" fill="#00ff18"/>
<rect x="0" y="0" width="25" height="116.02" fill="#00ff08"/>
<rect x="0" y="0" width="25" height="112.50" fill="#08ff00"/>
<rect x="0" y="0" width="25" height="108.98" fill="#18ff00"/>
<rect x="0" y="0" width="25" height="105.47" fill="#28ff00"/>
<rect x="0" y="0" width="25" height="101.95" fill="#39ff00"/>
<rect x="0" y="0" width="25" height="98.44" fill="#49ff00"/>
<rect x="0" y="0" width="25" height="94.92" fill="#59ff00"/>
<rect x="0" y="0" width="25" height="91.41" fill="#69ff00"/>
<rect x="0" y="0" width="25" height="87.89" fill="#79ff00"/>
<rect x="0" y="0" width="25" height="84.38" fill="#8aff00"/>
<rect x="0" y="0" width="25" height="80.86" fill="#9aff00"/>
<rect x="0" y="0" width="25" height="77.34" fill="#aaff00"/>
<rect x="0" y="0" width="25" height="73.83" fill="#baff00"/>
<rect x="0" y="0" width="25" height="70.31" fill="#caff00"/>
<rect x="0" y="0" width="25" height="66.80" fill="#dbff00"/>
<rect x="0" y="0" width="25" height="63.28" fill="#ebff00"/>
<rect x="0" y="0" width="25" height="59.77" fill="#fbff00"/>
<rect x="0" y="0" width="25" height="56.25" fill="#fff300"/>
<rect x="0" y="0" width="25" height="52.73" fill="#ffe300"/>
<rect x="0" y="0" width="25" height="49.22" fill="#ffd200"/>
<rect x="0" y="0" width="25" height="45.70" fill="#ffc200"/>
<rect x="0" y="0" width="25" height="42.19" fill="#ffb200"/>
<rect x="0" y="0" width="25" height="38.67" fill="#ffa200"/>
<rect x="0" y="0" width="25" height="35.16" fill="#ff9200"/>
<rect x="0" y="0" width="25" height="31.64" fill="#ff8200"/>
<rect x="0" y="0" width="25" height="28.12" fill="#ff7100"/>
<rect x="0" y="0" width="25" height="24.61" fill="#ff6100"/>
<rect x="0" y="0" width="25" height="21.09" fill="#ff5100"/>
<rect x="0" y="0" width="25" height="17.58" fill="#ff4100"/>
<rect x="0" y="0" width="25" height="14.06" fill="#ff3100"/>
<rect x="0" y="0" width="25" height="10.55" fill="#ff2000"/>
<rect x="0" y="0" width="25" height="7.03" fill="#ff1000"/>
<rect x="0" y="0" width="25" height="3.52" fill="#ff0000"/></svg>
<path d="M735.5,376.5 V601.5 H760.5 V376.5" fill="none" stroke="#000" stroke-width="1"/>
<line x1="735.0" y1="376.5" x2="761.0" y2="376.5" stroke="#000" stroke-width="1"/>
<line x1="760.5" y1="376.50" x2="765.00" y2="376.50" stroke="#000" stroke-width="1"/>
<line x1="760.5" y1="391.50" x2="765.00" y2="391.50" stroke="#000" stroke-width="1"/>
<line x1="760.5" y1="406.50" x2="765.00" y2="406.50" stroke="#000" stroke-width="1"/>
<line x1="760.5" y1="421.50" x2="765.00" y2="421.50" stroke="#000" stroke-width="1"/>
<line x1="760.5" y1="436.50" x2="765.00" y2="436.50" stroke="#000" stroke-width="1"/>
<line x1="760.5" y1="451.50" x2="765.00" y2="451.50" stroke="#000" stroke-width="1"/>
<line x1="760.5" y1="466.50" x2="765.00" y2="466.50" stroke="#000" stroke-width="1"/>
<line x1="760.5" y1="481.50" x2="765.00" y2="481.50" stroke="#000" stroke-width="1"/>
<line x1="760.5" y1="496.50" x2="765.00" y2="496.50" stroke="#000" stroke-width="1"/>
<line x1="760.5" y1="511.50" x2="765.00" y2="511.50" stroke="#000" stroke-width="1"/>
<line x1="760.5" y1="526.50" x2="765.00" y2="526.50" stroke="#000" stroke-width="1"/>
<line x1="760.5" y1="541.50" x2="765.00" y2="541.50" stroke="#000" stroke-width="1"/>
<line x1="760.5" y1="556.50" x2="765.00" y2="556.50" stroke="#000" stroke-width="1"/>
<line x1="760.5" y1="571.50" x2="765.00" y2="571.50" stroke="#000" stroke-width="1"/>
<line x1="760.5" y1="586.50" x2="765.00" y2="586.50" stroke="#000" stroke-width="1"/>
<line x1="760.5" y1="601.50" x2="765.00" y2="601.50" stroke="#000" stroke-width="1"/>
<g fill="#000">
<text x="20.78" y="23.75" font-size="12.80">0.135</text>
<text x="20.78" y="51.08" font-size="12.80">0.120</text>
<text x="20.78" y="78.41" font-size="12.80">0.105</text>
<text x="20.78" y="105.75" font-size="12.80">0.090</text>
<text x="20.78" y="133.08" font-size="12.80">0.075</text>
<text x="20.78" y="160.41" font-size="12.80">0.060</text>
<text x="20.78" y="187.75" font-size="12.80">0.045</text>
<text x="20.78" y="215.08" font-size="12.80">0.030</text>
<text x="20.78" y="242.41" font-size="12.80">0.015</text>
<text x="20.78" y="269.75" font-size="12.80">0.000</text>
<text x="49.70" y="284.40" font-size="12.80">0.0</text>
<text x="101.23" y="284.40" font-size="12.80">0.2</text>
<text x="152.37" y="284.40" font-size="12.80">0.4</text>
<text x="203.84" y="284.40" font-size="12.80">0.6</text>
<text x="255.30" y="284.40" font-size="12.80">0.8</text>
<text x="306.38" y="284.40" font-size="12.80">1.0</text>
<text transform="translate(167.95,300.67) scale(0.954,1)" font-size="13.13">Position</text>
<text font-size="14.5" font-style="italic" transform="translate(10.55,141.40) rotate(-90) translate(-3.70,5.00)">&#952;</text>
<text transform="translate(66.44,48.87) scale(1.089,1)" font-size="12.82" font-style="italic">θ</text>
<text transform="translate(74.79,52.72) scale(0.884,1)" font-size="7.76">cr</text>
<text transform="translate(365.27,28.07) scale(0.932,1)" font-size="11.47">524.0</text>
<text transform="translate(365.69,43.94) scale(0.932,1)" font-size="11.47">489.1</text>
<text transform="translate(365.69,59.80) scale(0.932,1)" font-size="11.47">454.1</text>
<text transform="translate(365.69,75.67) scale(0.932,1)" font-size="11.47">419.2</text>
<text transform="translate(365.37,91.54) scale(0.932,1)" font-size="11.47">384.3</text>
<text transform="translate(365.37,107.40) scale(0.932,1)" font-size="11.47">349.3</text>
<text transform="translate(365.37,123.27) scale(0.932,1)" font-size="11.47">314.4</text>
<text transform="translate(365.37,139.14) scale(0.932,1)" font-size="11.47">279.5</text>
<text transform="translate(365.37,155.00) scale(0.932,1)" font-size="11.47">244.5</text>
<text transform="translate(365.37,170.87) scale(0.932,1)" font-size="11.47">209.6</text>
<text transform="translate(364.94,186.79) scale(0.932,1)" font-size="11.47">174.7</text>
<text transform="translate(364.94,202.60) scale(0.932,1)" font-size="11.47">139.7</text>
<text transform="translate(364.94,218.47) scale(0.932,1)" font-size="11.47">104.8</text>
<text transform="translate(365.37,234.34) scale(0.932,1)" font-size="11.47">69.9</text>
<text transform="translate(365.37,250.20) scale(0.932,1)" font-size="11.47">34.9</text>
<text transform="translate(365.48,266.07) scale(0.932,1)" font-size="11.47">0.0</text>
<text transform="translate(328.23,13.90) scale(1.014,1)" font-size="12.65">Stress/MPa</text>
<text transform="translate(196.27,333.52) scale(0.944,1)" font-size="19.46">(<tspan font-weight="bold">a</tspan>)</text>
<text x="446.34" y="32.87" font-size="12.10">0.135</text>
<text x="446.34" y="58.43" font-size="12.10">0.120</text>
<text x="446.34" y="83.98" font-size="12.10">0.105</text>
<text x="446.34" y="109.54" font-size="12.10">0.090</text>
<text x="446.34" y="135.09" font-size="12.10">0.075</text>
<text x="446.34" y="160.65" font-size="12.10">0.060</text>
<text x="446.34" y="186.21" font-size="12.10">0.045</text>
<text x="446.34" y="211.76" font-size="12.10">0.030</text>
<text x="446.34" y="237.32" font-size="12.10">0.015</text>
<text x="446.34" y="262.87" font-size="12.10">0.000</text>
<text x="474.44" y="276.37" font-size="12.10">0.0</text>
<text x="522.56" y="276.37" font-size="12.10">0.2</text>
<text x="570.32" y="276.37" font-size="12.10">0.4</text>
<text x="618.38" y="276.37" font-size="12.10">0.6</text>
<text x="666.44" y="276.37" font-size="12.10">0.8</text>
<text x="714.13" y="276.37" font-size="12.10">1.0</text>
<text transform="translate(582.06,290.68) scale(1.018,1)" font-size="11.79">Position</text>
<text font-size="14.0" font-style="italic" transform="translate(437.40,142.85) rotate(-90) translate(-3.57,4.83)">&#952;</text>
<text transform="translate(489.24,57.68) scale(1.152,1)" font-size="12.11" font-style="italic">θ</text>
<text transform="translate(496.72,60.72) scale(1.125,1)" font-size="8.37">cr</text>
<text transform="translate(767.51,34.40) scale(0.954,1)" font-size="10.15">0.059</text>
<text transform="translate(767.51,49.26) scale(0.954,1)" font-size="10.15">0.055</text>
<text transform="translate(767.51,64.13) scale(0.954,1)" font-size="10.15">0.051</text>
<text transform="translate(767.51,79.00) scale(0.954,1)" font-size="10.15">0.047</text>
<text transform="translate(767.51,93.86) scale(0.954,1)" font-size="10.15">0.043</text>
<text transform="translate(767.51,108.73) scale(0.954,1)" font-size="10.15">0.039</text>
<text transform="translate(767.51,123.60) scale(0.954,1)" font-size="10.15">0.036</text>
<text transform="translate(767.51,138.46) scale(0.954,1)" font-size="10.15">0.032</text>
<text transform="translate(767.51,153.33) scale(0.954,1)" font-size="10.15">0.028</text>
<text transform="translate(767.51,168.20) scale(0.954,1)" font-size="10.15">0.024</text>
<text transform="translate(767.51,183.06) scale(0.954,1)" font-size="10.15">0.020</text>
<text transform="translate(767.51,197.93) scale(0.954,1)" font-size="10.15">0.016</text>
<text transform="translate(767.51,212.80) scale(0.954,1)" font-size="10.15">0.012</text>
<text transform="translate(767.51,227.66) scale(0.954,1)" font-size="10.15">0.008</text>
<text transform="translate(767.51,242.53) scale(0.954,1)" font-size="10.15">0.004</text>
<text transform="translate(767.51,257.40) scale(0.954,1)" font-size="10.15">0.000</text>
<text transform="translate(733.27,23.60) scale(1.060,1)" font-size="11.47">Strain</text>
<text transform="translate(606.92,333.68) scale(1.054,1)" font-size="20.98">(<tspan font-weight="bold">b</tspan>)</text>
<text x="20.66" y="369.13" font-size="12.90">0.135</text>
<text x="20.66" y="396.79" font-size="12.90">0.120</text>
<text x="20.66" y="424.46" font-size="12.90">0.105</text>
<text x="20.66" y="452.13" font-size="12.90">0.090</text>
<text x="20.66" y="479.79" font-size="12.90">0.075</text>
<text x="20.66" y="507.46" font-size="12.90">0.060</text>
<text x="20.66" y="535.13" font-size="12.90">0.045</text>
<text x="20.66" y="562.79" font-size="12.90">0.030</text>
<text x="20.66" y="590.46" font-size="12.90">0.015</text>
<text x="20.66" y="618.13" font-size="12.90">0.000</text>
<text x="50.44" y="633.13" font-size="12.90">0.0</text>
<text x="102.57" y="633.13" font-size="12.90">0.2</text>
<text x="154.31" y="633.13" font-size="12.90">0.4</text>
<text x="206.37" y="633.13" font-size="12.90">0.6</text>
<text x="258.44" y="633.13" font-size="12.90">0.8</text>
<text x="310.12" y="633.13" font-size="12.90">1.0</text>
<text transform="translate(167.64,647.77) scale(0.962,1)" font-size="13.28">Position</text>
<text font-size="14.5" font-style="italic" transform="translate(10.55,488.30) rotate(-90) translate(-3.70,5.00)">&#952;</text>
<text transform="translate(67.09,394.67) scale(1.211,1)" font-size="12.68" font-style="italic">θ</text>
<text transform="translate(75.72,397.92) scale(1.153,1)" font-size="8.16">cr</text>
<text transform="translate(364.56,370.94) scale(1.013,1)" font-size="10.74">524.0</text>
<text transform="translate(364.99,387.07) scale(1.013,1)" font-size="10.74">489.1</text>
<text transform="translate(364.99,403.20) scale(1.013,1)" font-size="10.74">454.1</text>
<text transform="translate(364.99,419.34) scale(1.013,1)" font-size="10.74">419.2</text>
<text transform="translate(364.66,435.47) scale(1.013,1)" font-size="10.74">384.3</text>
<text transform="translate(364.66,451.60) scale(1.013,1)" font-size="10.74">349.3</text>
<text transform="translate(364.66,467.74) scale(1.013,1)" font-size="10.74">314.4</text>
<text transform="translate(364.66,483.87) scale(1.013,1)" font-size="10.74">279.5</text>
<text transform="translate(364.66,500.00) scale(1.013,1)" font-size="10.74">244.5</text>
<text transform="translate(364.66,516.14) scale(1.013,1)" font-size="10.74">209.6</text>
<text transform="translate(364.23,532.32) scale(1.013,1)" font-size="10.74">174.7</text>
<text transform="translate(364.23,548.40) scale(1.013,1)" font-size="10.74">139.7</text>
<text transform="translate(364.23,564.54) scale(1.013,1)" font-size="10.74">104.8</text>
<text transform="translate(364.66,580.67) scale(1.013,1)" font-size="10.74">69.9</text>
<text transform="translate(364.66,596.80) scale(1.013,1)" font-size="10.74">34.9</text>
<text transform="translate(364.77,612.94) scale(1.013,1)" font-size="10.74">0.0</text>
<text transform="translate(327.32,359.50) scale(1.067,1)" font-size="12.21">Stress/MPa</text>
<text transform="translate(197.19,680.42) scale(0.906,1)" font-size="19.46">(<tspan font-weight="bold">c</tspan>)</text>
<text x="445.34" y="375.87" font-size="12.10">0.135</text>
<text x="445.34" y="401.76" font-size="12.10">0.120</text>
<text x="445.34" y="427.65" font-size="12.10">0.105</text>
<text x="445.34" y="453.54" font-size="12.10">0.090</text>
<text x="445.34" y="479.43" font-size="12.10">0.075</text>
<text x="445.34" y="505.32" font-size="12.10">0.060</text>
<text x="445.34" y="531.21" font-size="12.10">0.045</text>
<text x="445.34" y="557.09" font-size="12.10">0.030</text>
<text x="445.34" y="582.98" font-size="12.10">0.015</text>
<text x="445.34" y="608.87" font-size="12.10">0.000</text>
<text x="472.94" y="622.97" font-size="12.10">0.0</text>
<text x="521.66" y="622.97" font-size="12.10">0.2</text>
<text x="570.02" y="622.97" font-size="12.10">0.4</text>
<text x="618.68" y="622.97" font-size="12.10">0.6</text>
<text x="667.34" y="622.97" font-size="12.10">0.8</text>
<text x="715.63" y="622.97" font-size="12.10">1.0</text>
<text transform="translate(582.56,634.79) scale(1.045,1)" font-size="11.34">Position</text>
<text font-size="14.0" font-style="italic" transform="translate(435.45,487.65) rotate(-90) translate(-3.57,4.83)">&#952;</text>
<text transform="translate(488.20,401.09) scale(1.342,1)" font-size="11.27" font-style="italic">θ</text>
<text transform="translate(496.55,404.22) scale(0.980,1)" font-size="8.37">cr</text>
<text transform="translate(768.61,379.80) scale(0.959,1)" font-size="10.00">0.724</text>
<text transform="translate(768.61,394.80) scale(0.959,1)" font-size="10.00">0.676</text>
<text transform="translate(768.61,409.80) scale(0.959,1)" font-size="10.00">0.627</text>
<text transform="translate(768.61,424.80) scale(0.959,1)" font-size="10.00">0.579</text>
<text transform="translate(768.61,439.80) scale(0.959,1)" font-size="10.00">0.531</text>
<text transform="translate(768.61,454.80) scale(0.959,1)" font-size="10.00">0.483</text>
<text transform="translate(768.61,469.80) scale(0.959,1)" font-size="10.00">0.434</text>
<text transform="translate(768.61,484.80) scale(0.959,1)" font-size="10.00">0.386</text>
<text transform="translate(768.61,499.80) scale(0.959,1)" font-size="10.00">0.338</text>
<text transform="translate(768.61,514.80) scale(0.959,1)" font-size="10.00">0.290</text>
<text transform="translate(768.61,529.80) scale(0.959,1)" font-size="10.00">0.241</text>
<text transform="translate(768.61,544.80) scale(0.959,1)" font-size="10.00">0.193</text>
<text transform="translate(768.61,559.80) scale(0.959,1)" font-size="10.00">0.145</text>
<text transform="translate(768.61,574.80) scale(0.959,1)" font-size="10.00">0.097</text>
<text transform="translate(768.61,589.80) scale(0.959,1)" font-size="10.00">0.048</text>
<text transform="translate(768.61,604.80) scale(0.959,1)" font-size="10.00">0.000</text>
<text transform="translate(734.88,371.40) scale(0.991,1)" font-size="12.06">Strain</text>
<text transform="translate(606.92,680.98) scale(1.100,1)" font-size="20.11">(<tspan font-weight="bold">d</tspan>)</text>
</g>
</svg>
</body></html>
